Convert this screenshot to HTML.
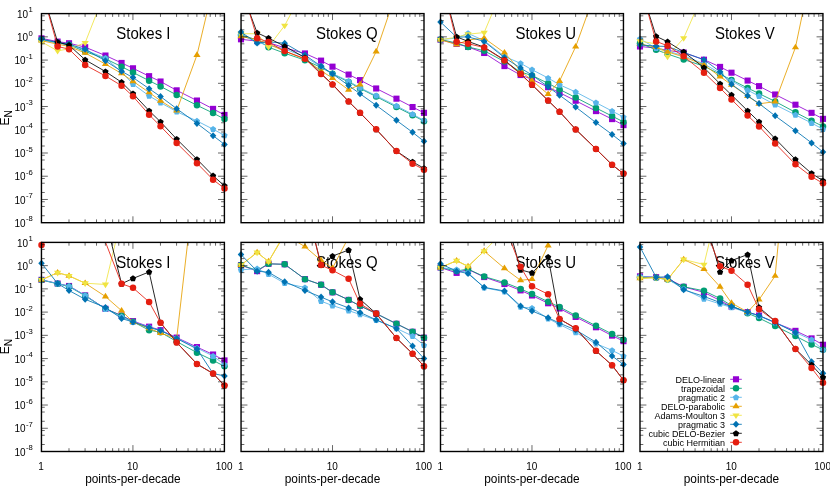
<!DOCTYPE html>
<html><head><meta charset="utf-8"><title>chart</title>
<style>
html,body{margin:0;padding:0;background:#fff;}
body{width:830px;height:486px;overflow:hidden;}
.t{font-family:"Liberation Sans",sans-serif;fill:#000;}
</style></head><body>
<svg width="830" height="486" viewBox="0 0 830 486" style="display:block;filter:blur(0.35px)">
<rect width="830" height="486" fill="#fff"/>
<defs>
<clipPath id="c0"><rect x="41.45" y="13.6" width="182.95" height="209.1"/></clipPath>
<clipPath id="c1"><rect x="241.05" y="13.6" width="182.95" height="209.1"/></clipPath>
<clipPath id="c2"><rect x="440.5" y="13.6" width="182.95" height="209.1"/></clipPath>
<clipPath id="c3"><rect x="640" y="13.6" width="182.95" height="209.1"/></clipPath>
<clipPath id="c4"><rect x="41.45" y="242.4" width="182.95" height="209.1"/></clipPath>
<clipPath id="c5"><rect x="241.05" y="242.4" width="182.95" height="209.1"/></clipPath>
<clipPath id="c6"><rect x="440.5" y="242.4" width="182.95" height="209.1"/></clipPath>
<clipPath id="c7"><rect x="640" y="242.4" width="182.95" height="209.1"/></clipPath>
</defs>
<text transform="translate(116.35,39.45) scale(1,1.09)" font-size="15" class="t">Stokes I</text>
<g clip-path="url(#c0)"><polyline fill="none" stroke="#9400D3" stroke-width="0.85" stroke-linejoin="round" points="41.5,38.36 57.61,41.61 69.04,43.23 85.16,47.18 105.46,55.53 121.57,62.95 133,68.29 149.11,76.18 160.54,81.51 176.66,90.33 196.96,100.54 213.07,108.89 224.5,114.92"/></g>
<rect x="38.45" y="35.31" width="6.1" height="6.1" fill="#9400D3"/>
<rect x="54.56" y="38.56" width="6.1" height="6.1" fill="#9400D3"/>
<rect x="65.99" y="40.18" width="6.1" height="6.1" fill="#9400D3"/>
<rect x="82.11" y="44.13" width="6.1" height="6.1" fill="#9400D3"/>
<rect x="102.41" y="52.48" width="6.1" height="6.1" fill="#9400D3"/>
<rect x="118.52" y="59.9" width="6.1" height="6.1" fill="#9400D3"/>
<rect x="129.95" y="65.24" width="6.1" height="6.1" fill="#9400D3"/>
<rect x="146.06" y="73.13" width="6.1" height="6.1" fill="#9400D3"/>
<rect x="157.49" y="78.46" width="6.1" height="6.1" fill="#9400D3"/>
<rect x="173.61" y="87.28" width="6.1" height="6.1" fill="#9400D3"/>
<rect x="193.91" y="97.49" width="6.1" height="6.1" fill="#9400D3"/>
<rect x="210.02" y="105.84" width="6.1" height="6.1" fill="#9400D3"/>
<rect x="221.45" y="111.87" width="6.1" height="6.1" fill="#9400D3"/>
<g clip-path="url(#c0)"><polyline fill="none" stroke="#009E73" stroke-width="0.85" stroke-linejoin="round" points="41.5,39.52 57.61,42.77 69.04,44.86 85.16,51.58 105.46,58.78 121.57,66.66 133,72.46 149.11,80.7 160.54,86.38 176.66,94.97 196.96,105.29 213.07,113.06 224.5,119.1"/></g>
<circle cx="41.5" cy="39.52" r="3.25" fill="#009E73"/>
<circle cx="57.61" cy="42.77" r="3.25" fill="#009E73"/>
<circle cx="69.04" cy="44.86" r="3.25" fill="#009E73"/>
<circle cx="85.16" cy="51.58" r="3.25" fill="#009E73"/>
<circle cx="105.46" cy="58.78" r="3.25" fill="#009E73"/>
<circle cx="121.57" cy="66.66" r="3.25" fill="#009E73"/>
<circle cx="133" cy="72.46" r="3.25" fill="#009E73"/>
<circle cx="149.11" cy="80.7" r="3.25" fill="#009E73"/>
<circle cx="160.54" cy="86.38" r="3.25" fill="#009E73"/>
<circle cx="176.66" cy="94.97" r="3.25" fill="#009E73"/>
<circle cx="196.96" cy="105.29" r="3.25" fill="#009E73"/>
<circle cx="213.07" cy="113.06" r="3.25" fill="#009E73"/>
<circle cx="224.5" cy="119.1" r="3.25" fill="#009E73"/>
<g clip-path="url(#c0)"><polyline fill="none" stroke="#56B4E9" stroke-width="0.85" stroke-linejoin="round" points="41.5,39.98 57.61,43 69.04,45.09 85.16,49.96 105.46,58.08 121.57,72 133,84.06 149.11,95.9 160.54,102.62 176.66,111.67 196.96,120.95 213.07,129.19 224.5,135.34"/></g>
<polygon points="41.5,36.88 44.64,39.16 43.44,42.85 39.56,42.85 38.36,39.16" fill="#56B4E9"/>
<polygon points="57.61,39.9 60.75,42.18 59.55,45.87 55.67,45.87 54.47,42.18" fill="#56B4E9"/>
<polygon points="69.04,41.99 72.18,44.27 70.98,47.96 67.1,47.96 65.91,44.27" fill="#56B4E9"/>
<polygon points="85.16,46.86 88.3,49.14 87.1,52.83 83.22,52.83 82.02,49.14" fill="#56B4E9"/>
<polygon points="105.46,54.98 108.59,57.26 107.4,60.95 103.52,60.95 102.32,57.26" fill="#56B4E9"/>
<polygon points="121.57,68.9 124.71,71.18 123.51,74.87 119.63,74.87 118.43,71.18" fill="#56B4E9"/>
<polygon points="133,80.96 136.14,83.24 134.94,86.93 131.06,86.93 129.86,83.24" fill="#56B4E9"/>
<polygon points="149.11,92.8 152.25,95.08 151.05,98.77 147.17,98.77 145.97,95.08" fill="#56B4E9"/>
<polygon points="160.54,99.52 163.68,101.8 162.48,105.49 158.6,105.49 157.41,101.8" fill="#56B4E9"/>
<polygon points="176.66,108.57 179.8,110.85 178.6,114.54 174.72,114.54 173.52,110.85" fill="#56B4E9"/>
<polygon points="196.96,117.85 200.09,120.13 198.9,123.82 195.02,123.82 193.82,120.13" fill="#56B4E9"/>
<polygon points="213.07,126.09 216.21,128.37 215.01,132.06 211.13,132.06 209.93,128.37" fill="#56B4E9"/>
<polygon points="224.5,132.24 227.64,134.52 226.44,138.21 222.56,138.21 221.36,134.52" fill="#56B4E9"/>
<g clip-path="url(#c0)"><polyline fill="none" stroke="#E69F00" stroke-width="0.85" stroke-linejoin="round" points="41.5,40.68 57.61,44.16 69.04,46.48 85.16,52.98 105.46,64.11 121.57,73.51 133,81.28 149.11,92.42 160.54,100.77 176.66,110.74 196.96,55.06 213.07,-12.91 224.5,-32.4"/></g>
<polygon points="41.5,36.95 45.1,42.55 37.9,42.55" fill="#E69F00"/>
<polygon points="57.61,40.43 61.21,46.03 54.01,46.03" fill="#E69F00"/>
<polygon points="69.04,42.75 72.64,48.35 65.44,48.35" fill="#E69F00"/>
<polygon points="85.16,49.24 88.76,54.84 81.56,54.84" fill="#E69F00"/>
<polygon points="105.46,60.38 109.06,65.98 101.86,65.98" fill="#E69F00"/>
<polygon points="121.57,69.77 125.17,75.37 117.97,75.37" fill="#E69F00"/>
<polygon points="133,77.55 136.6,83.15 129.4,83.15" fill="#E69F00"/>
<polygon points="149.11,88.68 152.71,94.28 145.51,94.28" fill="#E69F00"/>
<polygon points="160.54,97.03 164.14,102.63 156.94,102.63" fill="#E69F00"/>
<polygon points="176.66,107.01 180.26,112.61 173.06,112.61" fill="#E69F00"/>
<polygon points="196.96,51.33 200.56,56.93 193.36,56.93" fill="#E69F00"/>
<g clip-path="url(#c0)"><polyline fill="none" stroke="#F0E442" stroke-width="0.85" stroke-linejoin="round" points="41.5,41.84 57.61,50.89 69.04,48.8 85.16,42.77 105.46,-9.2 121.57,-32.4 133,-32.4 149.11,-32.4 160.54,-32.4 176.66,-32.4 196.96,-32.4 213.07,-32.4 224.5,-32.4"/></g>
<polygon points="41.5,45.57 45.1,39.97 37.9,39.97" fill="#F0E442"/>
<polygon points="57.61,54.62 61.21,49.02 54.01,49.02" fill="#F0E442"/>
<polygon points="69.04,52.53 72.64,46.93 65.44,46.93" fill="#F0E442"/>
<polygon points="85.16,46.5 88.76,40.9 81.56,40.9" fill="#F0E442"/>
<g clip-path="url(#c0)"><polyline fill="none" stroke="#0072B2" stroke-width="0.85" stroke-linejoin="round" points="41.5,39.29 57.61,42.3 69.04,44.16 85.16,49.26 105.46,60.86 121.57,71.3 133,77.57 149.11,88.7 160.54,96.59 176.66,108.66 196.96,123.39 213.07,135.68 224.5,144.38"/></g>
<polygon points="41.5,35.79 44.75,39.29 41.5,42.79 38.25,39.29" fill="#0072B2"/>
<polygon points="57.61,38.8 60.86,42.3 57.61,45.8 54.36,42.3" fill="#0072B2"/>
<polygon points="69.04,40.66 72.29,44.16 69.04,47.66 65.79,44.16" fill="#0072B2"/>
<polygon points="85.16,45.76 88.41,49.26 85.16,52.76 81.91,49.26" fill="#0072B2"/>
<polygon points="105.46,57.36 108.71,60.86 105.46,64.36 102.21,60.86" fill="#0072B2"/>
<polygon points="121.57,67.8 124.82,71.3 121.57,74.8 118.32,71.3" fill="#0072B2"/>
<polygon points="133,74.07 136.25,77.57 133,81.07 129.75,77.57" fill="#0072B2"/>
<polygon points="149.11,85.2 152.36,88.7 149.11,92.2 145.86,88.7" fill="#0072B2"/>
<polygon points="160.54,93.09 163.79,96.59 160.54,100.09 157.29,96.59" fill="#0072B2"/>
<polygon points="176.66,105.16 179.91,108.66 176.66,112.16 173.41,108.66" fill="#0072B2"/>
<polygon points="196.96,119.89 200.21,123.39 196.96,126.89 193.71,123.39" fill="#0072B2"/>
<polygon points="213.07,132.18 216.32,135.68 213.07,139.18 209.82,135.68" fill="#0072B2"/>
<polygon points="224.5,140.88 227.75,144.38 224.5,147.88 221.25,144.38" fill="#0072B2"/>
<g clip-path="url(#c0)"><polyline fill="none" stroke="#000000" stroke-width="0.85" stroke-linejoin="round" points="41.5,-11.06 57.61,42.07 69.04,45.2 85.16,59.82 105.46,71.54 121.57,82.21 133,93.58 149.11,110.74 160.54,121.88 176.66,139.05 196.96,159.23 213.07,175.7 224.5,185.91"/></g>
<polygon points="57.61,38.97 60.75,41.25 59.55,44.94 55.67,44.94 54.47,41.25" fill="#000000"/>
<polygon points="69.04,42.1 72.18,44.38 70.98,48.07 67.1,48.07 65.91,44.38" fill="#000000"/>
<polygon points="85.16,56.72 88.3,59 87.1,62.69 83.22,62.69 82.02,59" fill="#000000"/>
<polygon points="105.46,68.44 108.59,70.72 107.4,74.41 103.52,74.41 102.32,70.72" fill="#000000"/>
<polygon points="121.57,79.11 124.71,81.39 123.51,85.08 119.63,85.08 118.43,81.39" fill="#000000"/>
<polygon points="133,90.48 136.14,92.76 134.94,96.45 131.06,96.45 129.86,92.76" fill="#000000"/>
<polygon points="149.11,107.64 152.25,109.92 151.05,113.61 147.17,113.61 145.97,109.92" fill="#000000"/>
<polygon points="160.54,118.78 163.68,121.06 162.48,124.75 158.6,124.75 157.41,121.06" fill="#000000"/>
<polygon points="176.66,135.95 179.8,138.23 178.6,141.92 174.72,141.92 173.52,138.23" fill="#000000"/>
<polygon points="196.96,156.13 200.09,158.41 198.9,162.1 195.02,162.1 193.82,158.41" fill="#000000"/>
<polygon points="213.07,172.6 216.21,174.88 215.01,178.57 211.13,178.57 209.93,174.88" fill="#000000"/>
<polygon points="224.5,182.81 227.64,185.09 226.44,188.78 222.56,188.78 221.36,185.09" fill="#000000"/>
<g clip-path="url(#c0)"><polyline fill="none" stroke="#E51E10" stroke-width="0.85" stroke-linejoin="round" points="41.5,-11.29 57.61,46.48 69.04,49.15 85.16,65.04 105.46,75.94 121.57,85.69 133,96.36 149.11,114.69 160.54,126.29 176.66,142.99 196.96,163.18 213.07,179.65 224.5,188.46"/></g>
<circle cx="57.61" cy="46.48" r="3.25" fill="#E51E10"/>
<circle cx="69.04" cy="49.15" r="3.25" fill="#E51E10"/>
<circle cx="85.16" cy="65.04" r="3.25" fill="#E51E10"/>
<circle cx="105.46" cy="75.94" r="3.25" fill="#E51E10"/>
<circle cx="121.57" cy="85.69" r="3.25" fill="#E51E10"/>
<circle cx="133" cy="96.36" r="3.25" fill="#E51E10"/>
<circle cx="149.11" cy="114.69" r="3.25" fill="#E51E10"/>
<circle cx="160.54" cy="126.29" r="3.25" fill="#E51E10"/>
<circle cx="176.66" cy="142.99" r="3.25" fill="#E51E10"/>
<circle cx="196.96" cy="163.18" r="3.25" fill="#E51E10"/>
<circle cx="213.07" cy="179.65" r="3.25" fill="#E51E10"/>
<circle cx="224.5" cy="188.46" r="3.25" fill="#E51E10"/>
<path d="M41.45,15.85h3.3M224.4,15.85h-3.3M41.45,20.59h3.3M224.4,20.59h-3.3M41.45,29.84h3.3M224.4,29.84h-3.3M41.45,36.83h6.4M224.4,36.83h-6.4M41.45,39.08h3.3M224.4,39.08h-3.3M41.45,43.83h3.3M224.4,43.83h-3.3M41.45,53.07h3.3M224.4,53.07h-3.3M41.45,60.07h6.4M224.4,60.07h-6.4M41.45,62.32h3.3M224.4,62.32h-3.3M41.45,67.06h3.3M224.4,67.06h-3.3M41.45,76.31h3.3M224.4,76.31h-3.3M41.45,83.3h6.4M224.4,83.3h-6.4M41.45,85.55h3.3M224.4,85.55h-3.3M41.45,90.29h3.3M224.4,90.29h-3.3M41.45,99.54h3.3M224.4,99.54h-3.3M41.45,106.53h6.4M224.4,106.53h-6.4M41.45,108.78h3.3M224.4,108.78h-3.3M41.45,113.53h3.3M224.4,113.53h-3.3M41.45,122.77h3.3M224.4,122.77h-3.3M41.45,129.77h6.4M224.4,129.77h-6.4M41.45,132.02h3.3M224.4,132.02h-3.3M41.45,136.76h3.3M224.4,136.76h-3.3M41.45,146.01h3.3M224.4,146.01h-3.3M41.45,153h6.4M224.4,153h-6.4M41.45,155.25h3.3M224.4,155.25h-3.3M41.45,159.99h3.3M224.4,159.99h-3.3M41.45,169.24h3.3M224.4,169.24h-3.3M41.45,176.23h6.4M224.4,176.23h-6.4M41.45,178.48h3.3M224.4,178.48h-3.3M41.45,183.23h3.3M224.4,183.23h-3.3M41.45,192.47h3.3M224.4,192.47h-3.3M41.45,199.47h6.4M224.4,199.47h-6.4M41.45,201.72h3.3M224.4,201.72h-3.3M41.45,206.46h3.3M224.4,206.46h-3.3M41.45,215.71h3.3M224.4,215.71h-3.3M68.99,222.7v-3.3M68.99,13.6v3.3M85.09,222.7v-3.3M85.09,13.6v3.3M96.52,222.7v-3.3M96.52,13.6v3.3M105.39,222.7v-3.3M105.39,13.6v3.3M112.63,222.7v-3.3M112.63,13.6v3.3M118.76,222.7v-3.3M118.76,13.6v3.3M124.06,222.7v-3.3M124.06,13.6v3.3M128.74,222.7v-3.3M128.74,13.6v3.3M132.93,222.7v-6.4M132.93,13.6v6.4M160.46,222.7v-3.3M160.46,13.6v3.3M176.57,222.7v-3.3M176.57,13.6v3.3M188,222.7v-3.3M188,13.6v3.3M196.86,222.7v-3.3M196.86,13.6v3.3M204.11,222.7v-3.3M204.11,13.6v3.3M210.23,222.7v-3.3M210.23,13.6v3.3M215.54,222.7v-3.3M215.54,13.6v3.3M220.21,222.7v-3.3M220.21,13.6v3.3" stroke="#000" stroke-width="0.6" fill="none"/>
<rect x="41.45" y="13.6" width="182.95" height="209.1" fill="none" stroke="#000" stroke-width="1.4"/>
<text transform="translate(32.8,17.7) scale(1,1.02)" font-size="10" text-anchor="end" class="t">10<tspan font-size="7.7" dy="-5.3" dx="0.4">1</tspan></text>
<text transform="translate(32.8,40.93) scale(1,1.02)" font-size="10" text-anchor="end" class="t">10<tspan font-size="7.7" dy="-5.3" dx="0.4">0</tspan></text>
<text transform="translate(32.8,64.17) scale(1,1.02)" font-size="10" text-anchor="end" class="t">10<tspan font-size="7.7" dy="-5.3" dx="0.4">-1</tspan></text>
<text transform="translate(32.8,87.4) scale(1,1.02)" font-size="10" text-anchor="end" class="t">10<tspan font-size="7.7" dy="-5.3" dx="0.4">-2</tspan></text>
<text transform="translate(32.8,110.63) scale(1,1.02)" font-size="10" text-anchor="end" class="t">10<tspan font-size="7.7" dy="-5.3" dx="0.4">-3</tspan></text>
<text transform="translate(32.8,133.87) scale(1,1.02)" font-size="10" text-anchor="end" class="t">10<tspan font-size="7.7" dy="-5.3" dx="0.4">-4</tspan></text>
<text transform="translate(32.8,157.1) scale(1,1.02)" font-size="10" text-anchor="end" class="t">10<tspan font-size="7.7" dy="-5.3" dx="0.4">-5</tspan></text>
<text transform="translate(32.8,180.33) scale(1,1.02)" font-size="10" text-anchor="end" class="t">10<tspan font-size="7.7" dy="-5.3" dx="0.4">-6</tspan></text>
<text transform="translate(32.8,203.57) scale(1,1.02)" font-size="10" text-anchor="end" class="t">10<tspan font-size="7.7" dy="-5.3" dx="0.4">-7</tspan></text>
<text transform="translate(32.8,226.8) scale(1,1.02)" font-size="10" text-anchor="end" class="t">10<tspan font-size="7.7" dy="-5.3" dx="0.4">-8</tspan></text>
<text transform="translate(9.3,125.45) rotate(-90)" font-size="12" class="t">E<tspan font-size="10.2" dy="3.1">N</tspan></text>
<text transform="translate(315.95,39.45) scale(1,1.09)" font-size="15" class="t">Stokes Q</text>
<g clip-path="url(#c1)"><polyline fill="none" stroke="#9400D3" stroke-width="0.85" stroke-linejoin="round" points="241,39.29 257.11,41.14 268.54,42.54 284.66,47.87 304.96,53.44 321.07,60.63 332.5,66.66 348.61,74.55 360.04,80.12 376.16,88.47 396.46,98.68 412.57,107.03 424,112.83"/></g>
<rect x="237.95" y="36.24" width="6.1" height="6.1" fill="#9400D3"/>
<rect x="254.06" y="38.09" width="6.1" height="6.1" fill="#9400D3"/>
<rect x="265.49" y="39.49" width="6.1" height="6.1" fill="#9400D3"/>
<rect x="281.61" y="44.82" width="6.1" height="6.1" fill="#9400D3"/>
<rect x="301.91" y="50.39" width="6.1" height="6.1" fill="#9400D3"/>
<rect x="318.02" y="57.58" width="6.1" height="6.1" fill="#9400D3"/>
<rect x="329.45" y="63.61" width="6.1" height="6.1" fill="#9400D3"/>
<rect x="345.56" y="71.5" width="6.1" height="6.1" fill="#9400D3"/>
<rect x="356.99" y="77.07" width="6.1" height="6.1" fill="#9400D3"/>
<rect x="373.11" y="85.42" width="6.1" height="6.1" fill="#9400D3"/>
<rect x="393.41" y="95.63" width="6.1" height="6.1" fill="#9400D3"/>
<rect x="409.52" y="103.98" width="6.1" height="6.1" fill="#9400D3"/>
<rect x="420.95" y="109.78" width="6.1" height="6.1" fill="#9400D3"/>
<g clip-path="url(#c1)"><polyline fill="none" stroke="#009E73" stroke-width="0.85" stroke-linejoin="round" points="241,34.88 257.11,39.98 268.54,47.18 284.66,53.21 304.96,60.17 321.07,67.36 332.5,73.86 348.61,81.98 360.04,88.47 376.16,96.59 396.46,107.03 412.57,115.15 424,121.18"/></g>
<circle cx="241" cy="34.88" r="3.25" fill="#009E73"/>
<circle cx="257.11" cy="39.98" r="3.25" fill="#009E73"/>
<circle cx="268.54" cy="47.18" r="3.25" fill="#009E73"/>
<circle cx="284.66" cy="53.21" r="3.25" fill="#009E73"/>
<circle cx="304.96" cy="60.17" r="3.25" fill="#009E73"/>
<circle cx="321.07" cy="67.36" r="3.25" fill="#009E73"/>
<circle cx="332.5" cy="73.86" r="3.25" fill="#009E73"/>
<circle cx="348.61" cy="81.98" r="3.25" fill="#009E73"/>
<circle cx="360.04" cy="88.47" r="3.25" fill="#009E73"/>
<circle cx="376.16" cy="96.59" r="3.25" fill="#009E73"/>
<circle cx="396.46" cy="107.03" r="3.25" fill="#009E73"/>
<circle cx="412.57" cy="115.15" r="3.25" fill="#009E73"/>
<circle cx="424" cy="121.18" r="3.25" fill="#009E73"/>
<g clip-path="url(#c1)"><polyline fill="none" stroke="#56B4E9" stroke-width="0.85" stroke-linejoin="round" points="241,34.88 257.11,42.3 268.54,45.32 284.66,48.8 304.96,56.92 321.07,66.66 332.5,73.62 348.61,81.05 360.04,87.78 376.16,95.66 396.46,105.87 412.57,114.22 424,120.37"/></g>
<polygon points="241,31.78 244.14,34.06 242.94,37.75 239.06,37.75 237.86,34.06" fill="#56B4E9"/>
<polygon points="257.11,39.2 260.25,41.48 259.05,45.17 255.17,45.17 253.97,41.48" fill="#56B4E9"/>
<polygon points="268.54,42.22 271.68,44.5 270.48,48.19 266.6,48.19 265.41,44.5" fill="#56B4E9"/>
<polygon points="284.66,45.7 287.8,47.98 286.6,51.67 282.72,51.67 281.52,47.98" fill="#56B4E9"/>
<polygon points="304.96,53.82 308.09,56.1 306.9,59.79 303.02,59.79 301.82,56.1" fill="#56B4E9"/>
<polygon points="321.07,63.56 324.21,65.84 323.01,69.53 319.13,69.53 317.93,65.84" fill="#56B4E9"/>
<polygon points="332.5,70.52 335.64,72.8 334.44,76.49 330.56,76.49 329.36,72.8" fill="#56B4E9"/>
<polygon points="348.61,77.95 351.75,80.23 350.55,83.92 346.67,83.92 345.47,80.23" fill="#56B4E9"/>
<polygon points="360.04,84.68 363.18,86.96 361.98,90.65 358.1,90.65 356.91,86.96" fill="#56B4E9"/>
<polygon points="376.16,92.56 379.3,94.84 378.1,98.53 374.22,98.53 373.02,94.84" fill="#56B4E9"/>
<polygon points="396.46,102.77 399.59,105.05 398.4,108.74 394.52,108.74 393.32,105.05" fill="#56B4E9"/>
<polygon points="412.57,111.12 415.71,113.4 414.51,117.09 410.63,117.09 409.43,113.4" fill="#56B4E9"/>
<polygon points="424,117.27 427.14,119.55 425.94,123.24 422.06,123.24 420.86,119.55" fill="#56B4E9"/>
<g clip-path="url(#c1)"><polyline fill="none" stroke="#E69F00" stroke-width="0.85" stroke-linejoin="round" points="241,36.5 257.11,39.52 268.54,44.16 284.66,51.12 304.96,59.24 321.07,70.84 332.5,78.03 348.61,89.86 360.04,84.53 376.16,51.58 396.46,-8.04 412.57,-32.4 424,-32.4"/></g>
<polygon points="241,32.77 244.6,38.37 237.4,38.37" fill="#E69F00"/>
<polygon points="257.11,35.79 260.71,41.39 253.51,41.39" fill="#E69F00"/>
<polygon points="268.54,40.43 272.14,46.03 264.94,46.03" fill="#E69F00"/>
<polygon points="284.66,47.39 288.26,52.99 281.06,52.99" fill="#E69F00"/>
<polygon points="304.96,55.51 308.56,61.11 301.36,61.11" fill="#E69F00"/>
<polygon points="321.07,67.11 324.67,72.71 317.47,72.71" fill="#E69F00"/>
<polygon points="332.5,74.3 336.1,79.9 328.9,79.9" fill="#E69F00"/>
<polygon points="348.61,86.13 352.21,91.73 345.01,91.73" fill="#E69F00"/>
<polygon points="360.04,80.79 363.64,86.39 356.44,86.39" fill="#E69F00"/>
<polygon points="376.16,47.85 379.76,53.45 372.56,53.45" fill="#E69F00"/>
<g clip-path="url(#c1)"><polyline fill="none" stroke="#F0E442" stroke-width="0.85" stroke-linejoin="round" points="241,33.72 257.11,33.72 268.54,46.71 284.66,25.6 304.96,-13.14 321.07,-32.4 332.5,-32.4 348.61,-32.4 360.04,-32.4 376.16,-32.4 396.46,-32.4 412.57,-32.4 424,-32.4"/></g>
<polygon points="241,37.45 244.6,31.85 237.4,31.85" fill="#F0E442"/>
<polygon points="257.11,37.45 260.71,31.85 253.51,31.85" fill="#F0E442"/>
<polygon points="268.54,50.45 272.14,44.85 264.94,44.85" fill="#F0E442"/>
<polygon points="284.66,29.33 288.26,23.73 281.06,23.73" fill="#F0E442"/>
<g clip-path="url(#c1)"><polyline fill="none" stroke="#0072B2" stroke-width="0.85" stroke-linejoin="round" points="241,32.1 257.11,43 268.54,41.84 284.66,43.23 304.96,55.06 321.07,66.2 332.5,73.86 348.61,85.46 360.04,93.81 376.16,105.29 396.46,120.37 412.57,132.32 424,141.37"/></g>
<polygon points="241,28.6 244.25,32.1 241,35.6 237.75,32.1" fill="#0072B2"/>
<polygon points="257.11,39.5 260.36,43 257.11,46.5 253.86,43" fill="#0072B2"/>
<polygon points="268.54,38.34 271.79,41.84 268.54,45.34 265.29,41.84" fill="#0072B2"/>
<polygon points="284.66,39.73 287.91,43.23 284.66,46.73 281.41,43.23" fill="#0072B2"/>
<polygon points="304.96,51.56 308.21,55.06 304.96,58.56 301.71,55.06" fill="#0072B2"/>
<polygon points="321.07,62.7 324.32,66.2 321.07,69.7 317.82,66.2" fill="#0072B2"/>
<polygon points="332.5,70.36 335.75,73.86 332.5,77.36 329.25,73.86" fill="#0072B2"/>
<polygon points="348.61,81.96 351.86,85.46 348.61,88.96 345.36,85.46" fill="#0072B2"/>
<polygon points="360.04,90.31 363.29,93.81 360.04,97.31 356.79,93.81" fill="#0072B2"/>
<polygon points="376.16,101.79 379.41,105.29 376.16,108.79 372.91,105.29" fill="#0072B2"/>
<polygon points="396.46,116.87 399.71,120.37 396.46,123.87 393.21,120.37" fill="#0072B2"/>
<polygon points="412.57,128.82 415.82,132.32 412.57,135.82 409.32,132.32" fill="#0072B2"/>
<polygon points="424,137.87 427.25,141.37 424,144.87 420.75,141.37" fill="#0072B2"/>
<g clip-path="url(#c1)"><polyline fill="none" stroke="#000000" stroke-width="0.85" stroke-linejoin="round" points="241,-10.82 257.11,32.79 268.54,38.13 284.66,46.25 304.96,57.62 321.07,73.62 332.5,84.3 348.61,101.46 360.04,112.83 376.16,129.3 396.46,151.11 412.57,161.9 424,168.28"/></g>
<polygon points="257.11,29.69 260.25,31.97 259.05,35.66 255.17,35.66 253.97,31.97" fill="#000000"/>
<polygon points="268.54,35.03 271.68,37.31 270.48,41 266.6,41 265.41,37.31" fill="#000000"/>
<polygon points="284.66,43.15 287.8,45.43 286.6,49.12 282.72,49.12 281.52,45.43" fill="#000000"/>
<polygon points="304.96,54.52 308.09,56.8 306.9,60.49 303.02,60.49 301.82,56.8" fill="#000000"/>
<polygon points="321.07,70.52 324.21,72.8 323.01,76.49 319.13,76.49 317.93,72.8" fill="#000000"/>
<polygon points="332.5,81.2 335.64,83.48 334.44,87.17 330.56,87.17 329.36,83.48" fill="#000000"/>
<polygon points="348.61,98.36 351.75,100.64 350.55,104.33 346.67,104.33 345.47,100.64" fill="#000000"/>
<polygon points="360.04,109.73 363.18,112.01 361.98,115.7 358.1,115.7 356.91,112.01" fill="#000000"/>
<polygon points="376.16,126.2 379.3,128.48 378.1,132.17 374.22,132.17 373.02,128.48" fill="#000000"/>
<polygon points="396.46,148.01 399.59,150.29 398.4,153.98 394.52,153.98 393.32,150.29" fill="#000000"/>
<polygon points="412.57,158.8 415.71,161.08 414.51,164.77 410.63,164.77 409.43,161.08" fill="#000000"/>
<polygon points="424,165.18 427.14,167.46 425.94,171.15 422.06,171.15 420.86,167.46" fill="#000000"/>
<g clip-path="url(#c1)"><polyline fill="none" stroke="#E51E10" stroke-width="0.85" stroke-linejoin="round" points="241,-15.7 257.11,38.13 268.54,42.07 284.66,51.12 304.96,58.66 321.07,74.09 332.5,84.53 348.61,101.46 360.04,112.83 376.16,129.3 396.46,151.11 412.57,163.64 424,169.67"/></g>
<circle cx="257.11" cy="38.13" r="3.25" fill="#E51E10"/>
<circle cx="268.54" cy="42.07" r="3.25" fill="#E51E10"/>
<circle cx="284.66" cy="51.12" r="3.25" fill="#E51E10"/>
<circle cx="304.96" cy="58.66" r="3.25" fill="#E51E10"/>
<circle cx="321.07" cy="74.09" r="3.25" fill="#E51E10"/>
<circle cx="332.5" cy="84.53" r="3.25" fill="#E51E10"/>
<circle cx="348.61" cy="101.46" r="3.25" fill="#E51E10"/>
<circle cx="360.04" cy="112.83" r="3.25" fill="#E51E10"/>
<circle cx="376.16" cy="129.3" r="3.25" fill="#E51E10"/>
<circle cx="396.46" cy="151.11" r="3.25" fill="#E51E10"/>
<circle cx="412.57" cy="163.64" r="3.25" fill="#E51E10"/>
<circle cx="424" cy="169.67" r="3.25" fill="#E51E10"/>
<path d="M241.05,15.85h3.3M424,15.85h-3.3M241.05,20.59h3.3M424,20.59h-3.3M241.05,29.84h3.3M424,29.84h-3.3M241.05,36.83h6.4M424,36.83h-6.4M241.05,39.08h3.3M424,39.08h-3.3M241.05,43.83h3.3M424,43.83h-3.3M241.05,53.07h3.3M424,53.07h-3.3M241.05,60.07h6.4M424,60.07h-6.4M241.05,62.32h3.3M424,62.32h-3.3M241.05,67.06h3.3M424,67.06h-3.3M241.05,76.31h3.3M424,76.31h-3.3M241.05,83.3h6.4M424,83.3h-6.4M241.05,85.55h3.3M424,85.55h-3.3M241.05,90.29h3.3M424,90.29h-3.3M241.05,99.54h3.3M424,99.54h-3.3M241.05,106.53h6.4M424,106.53h-6.4M241.05,108.78h3.3M424,108.78h-3.3M241.05,113.53h3.3M424,113.53h-3.3M241.05,122.77h3.3M424,122.77h-3.3M241.05,129.77h6.4M424,129.77h-6.4M241.05,132.02h3.3M424,132.02h-3.3M241.05,136.76h3.3M424,136.76h-3.3M241.05,146.01h3.3M424,146.01h-3.3M241.05,153h6.4M424,153h-6.4M241.05,155.25h3.3M424,155.25h-3.3M241.05,159.99h3.3M424,159.99h-3.3M241.05,169.24h3.3M424,169.24h-3.3M241.05,176.23h6.4M424,176.23h-6.4M241.05,178.48h3.3M424,178.48h-3.3M241.05,183.23h3.3M424,183.23h-3.3M241.05,192.47h3.3M424,192.47h-3.3M241.05,199.47h6.4M424,199.47h-6.4M241.05,201.72h3.3M424,201.72h-3.3M241.05,206.46h3.3M424,206.46h-3.3M241.05,215.71h3.3M424,215.71h-3.3M268.59,222.7v-3.3M268.59,13.6v3.3M284.69,222.7v-3.3M284.69,13.6v3.3M296.12,222.7v-3.3M296.12,13.6v3.3M304.99,222.7v-3.3M304.99,13.6v3.3M312.23,222.7v-3.3M312.23,13.6v3.3M318.36,222.7v-3.3M318.36,13.6v3.3M323.66,222.7v-3.3M323.66,13.6v3.3M328.34,222.7v-3.3M328.34,13.6v3.3M332.52,222.7v-6.4M332.52,13.6v6.4M360.06,222.7v-3.3M360.06,13.6v3.3M376.17,222.7v-3.3M376.17,13.6v3.3M387.6,222.7v-3.3M387.6,13.6v3.3M396.46,222.7v-3.3M396.46,13.6v3.3M403.71,222.7v-3.3M403.71,13.6v3.3M409.83,222.7v-3.3M409.83,13.6v3.3M415.14,222.7v-3.3M415.14,13.6v3.3M419.81,222.7v-3.3M419.81,13.6v3.3" stroke="#000" stroke-width="0.6" fill="none"/>
<rect x="241.05" y="13.6" width="182.95" height="209.1" fill="none" stroke="#000" stroke-width="1.4"/>
<text transform="translate(515.4,39.45) scale(1,1.09)" font-size="15" class="t">Stokes U</text>
<g clip-path="url(#c2)"><polyline fill="none" stroke="#9400D3" stroke-width="0.85" stroke-linejoin="round" points="440.5,39.75 456.61,43.93 468.04,46.94 484.16,52.98 504.46,66.08 520.57,75.02 532,79.31 548.11,87.2 559.54,92.65 575.66,100.77 595.96,111.09 612.07,119.1 623.5,125.13"/></g>
<rect x="437.45" y="36.7" width="6.1" height="6.1" fill="#9400D3"/>
<rect x="453.56" y="40.88" width="6.1" height="6.1" fill="#9400D3"/>
<rect x="464.99" y="43.89" width="6.1" height="6.1" fill="#9400D3"/>
<rect x="481.11" y="49.93" width="6.1" height="6.1" fill="#9400D3"/>
<rect x="501.41" y="63.03" width="6.1" height="6.1" fill="#9400D3"/>
<rect x="517.52" y="71.97" width="6.1" height="6.1" fill="#9400D3"/>
<rect x="528.95" y="76.26" width="6.1" height="6.1" fill="#9400D3"/>
<rect x="545.06" y="84.15" width="6.1" height="6.1" fill="#9400D3"/>
<rect x="556.49" y="89.6" width="6.1" height="6.1" fill="#9400D3"/>
<rect x="572.61" y="97.72" width="6.1" height="6.1" fill="#9400D3"/>
<rect x="592.91" y="108.04" width="6.1" height="6.1" fill="#9400D3"/>
<rect x="609.02" y="116.05" width="6.1" height="6.1" fill="#9400D3"/>
<rect x="620.45" y="122.08" width="6.1" height="6.1" fill="#9400D3"/>
<g clip-path="url(#c2)"><polyline fill="none" stroke="#009E73" stroke-width="0.85" stroke-linejoin="round" points="440.5,39.52 456.61,43 468.04,46.94 484.16,50.77 504.46,61.56 520.57,72 532,75.48 548.11,83.37 559.54,89.4 575.66,97.52 595.96,107.96 612.07,116.08 623.5,121.88"/></g>
<circle cx="440.5" cy="39.52" r="3.25" fill="#009E73"/>
<circle cx="456.61" cy="43" r="3.25" fill="#009E73"/>
<circle cx="468.04" cy="46.94" r="3.25" fill="#009E73"/>
<circle cx="484.16" cy="50.77" r="3.25" fill="#009E73"/>
<circle cx="504.46" cy="61.56" r="3.25" fill="#009E73"/>
<circle cx="520.57" cy="72" r="3.25" fill="#009E73"/>
<circle cx="532" cy="75.48" r="3.25" fill="#009E73"/>
<circle cx="548.11" cy="83.37" r="3.25" fill="#009E73"/>
<circle cx="559.54" cy="89.4" r="3.25" fill="#009E73"/>
<circle cx="575.66" cy="97.52" r="3.25" fill="#009E73"/>
<circle cx="595.96" cy="107.96" r="3.25" fill="#009E73"/>
<circle cx="612.07" cy="116.08" r="3.25" fill="#009E73"/>
<circle cx="623.5" cy="121.88" r="3.25" fill="#009E73"/>
<g clip-path="url(#c2)"><polyline fill="none" stroke="#56B4E9" stroke-width="0.85" stroke-linejoin="round" points="440.5,39.52 456.61,38.13 468.04,33.37 484.16,40.68 504.46,56.46 520.57,63.3 532,69.68 548.11,78.03 559.54,84.76 575.66,91.95 595.96,102.62 612.07,111.09 623.5,117.01"/></g>
<polygon points="440.5,36.42 443.64,38.7 442.44,42.39 438.56,42.39 437.36,38.7" fill="#56B4E9"/>
<polygon points="456.61,35.03 459.75,37.31 458.55,41 454.67,41 453.47,37.31" fill="#56B4E9"/>
<polygon points="468.04,30.27 471.18,32.55 469.98,36.24 466.1,36.24 464.91,32.55" fill="#56B4E9"/>
<polygon points="484.16,37.58 487.3,39.86 486.1,43.55 482.22,43.55 481.02,39.86" fill="#56B4E9"/>
<polygon points="504.46,53.36 507.59,55.64 506.4,59.33 502.52,59.33 501.32,55.64" fill="#56B4E9"/>
<polygon points="520.57,60.2 523.71,62.48 522.51,66.17 518.63,66.17 517.43,62.48" fill="#56B4E9"/>
<polygon points="532,66.58 535.14,68.86 533.94,72.55 530.06,72.55 528.86,68.86" fill="#56B4E9"/>
<polygon points="548.11,74.93 551.25,77.21 550.05,80.9 546.17,80.9 544.97,77.21" fill="#56B4E9"/>
<polygon points="559.54,81.66 562.68,83.94 561.48,87.63 557.6,87.63 556.41,83.94" fill="#56B4E9"/>
<polygon points="575.66,88.85 578.8,91.13 577.6,94.82 573.72,94.82 572.52,91.13" fill="#56B4E9"/>
<polygon points="595.96,99.52 599.09,101.8 597.9,105.49 594.02,105.49 592.82,101.8" fill="#56B4E9"/>
<polygon points="612.07,107.99 615.21,110.27 614.01,113.96 610.13,113.96 608.93,110.27" fill="#56B4E9"/>
<polygon points="623.5,113.91 626.64,116.19 625.44,119.88 621.56,119.88 620.36,116.19" fill="#56B4E9"/>
<g clip-path="url(#c2)"><polyline fill="none" stroke="#E69F00" stroke-width="0.85" stroke-linejoin="round" points="440.5,39.75 456.61,44.62 468.04,39.98 484.16,38.13 504.46,52.74 520.57,70.84 532,80.58 548.11,94.16 559.54,81.05 575.66,46.71 595.96,-9.66 612.07,-32.4 623.5,-32.4"/></g>
<polygon points="440.5,36.02 444.1,41.62 436.9,41.62" fill="#E69F00"/>
<polygon points="456.61,40.89 460.21,46.49 453.01,46.49" fill="#E69F00"/>
<polygon points="468.04,36.25 471.64,41.85 464.44,41.85" fill="#E69F00"/>
<polygon points="484.16,34.39 487.76,39.99 480.56,39.99" fill="#E69F00"/>
<polygon points="504.46,49.01 508.06,54.61 500.86,54.61" fill="#E69F00"/>
<polygon points="520.57,67.11 524.17,72.71 516.97,72.71" fill="#E69F00"/>
<polygon points="532,76.85 535.6,82.45 528.4,82.45" fill="#E69F00"/>
<polygon points="548.11,90.42 551.71,96.02 544.51,96.02" fill="#E69F00"/>
<polygon points="559.54,77.31 563.14,82.91 555.94,82.91" fill="#E69F00"/>
<polygon points="575.66,42.98 579.26,48.58 572.06,48.58" fill="#E69F00"/>
<g clip-path="url(#c2)"><polyline fill="none" stroke="#F0E442" stroke-width="0.85" stroke-linejoin="round" points="440.5,39.75 456.61,37.2 468.04,34.18 484.16,32.56 504.46,-15.93 520.57,-32.4 532,-32.4 548.11,-32.4 559.54,-32.4 575.66,-32.4 595.96,-32.4 612.07,-32.4 623.5,-32.4"/></g>
<polygon points="440.5,43.49 444.1,37.89 436.9,37.89" fill="#F0E442"/>
<polygon points="456.61,40.93 460.21,35.33 453.01,35.33" fill="#F0E442"/>
<polygon points="468.04,37.92 471.64,32.32 464.44,32.32" fill="#F0E442"/>
<polygon points="484.16,36.29 487.76,30.69 480.56,30.69" fill="#F0E442"/>
<g clip-path="url(#c2)"><polyline fill="none" stroke="#0072B2" stroke-width="0.85" stroke-linejoin="round" points="440.5,22 456.61,37.2 468.04,36.85 484.16,41.38 504.46,57.62 520.57,68.06 532,75.02 548.11,86.85 559.54,95.2 575.66,107.03 595.96,122.58 612.07,134.41 623.5,143.46"/></g>
<polygon points="440.5,18.5 443.75,22 440.5,25.5 437.25,22" fill="#0072B2"/>
<polygon points="456.61,33.7 459.86,37.2 456.61,40.7 453.36,37.2" fill="#0072B2"/>
<polygon points="468.04,33.35 471.29,36.85 468.04,40.35 464.79,36.85" fill="#0072B2"/>
<polygon points="484.16,37.88 487.41,41.38 484.16,44.88 480.91,41.38" fill="#0072B2"/>
<polygon points="504.46,54.12 507.71,57.62 504.46,61.12 501.21,57.62" fill="#0072B2"/>
<polygon points="520.57,64.56 523.82,68.06 520.57,71.56 517.32,68.06" fill="#0072B2"/>
<polygon points="532,71.52 535.25,75.02 532,78.52 528.75,75.02" fill="#0072B2"/>
<polygon points="548.11,83.35 551.36,86.85 548.11,90.35 544.86,86.85" fill="#0072B2"/>
<polygon points="559.54,91.7 562.79,95.2 559.54,98.7 556.29,95.2" fill="#0072B2"/>
<polygon points="575.66,103.53 578.91,107.03 575.66,110.53 572.41,107.03" fill="#0072B2"/>
<polygon points="595.96,119.08 599.21,122.58 595.96,126.08 592.71,122.58" fill="#0072B2"/>
<polygon points="612.07,130.91 615.32,134.41 612.07,137.91 608.82,134.41" fill="#0072B2"/>
<polygon points="623.5,139.96 626.75,143.46 623.5,146.96 620.25,143.46" fill="#0072B2"/>
<g clip-path="url(#c2)"><polyline fill="none" stroke="#000000" stroke-width="0.85" stroke-linejoin="round" points="440.5,-23.12 456.61,36.85 468.04,41.38 484.16,47.18 504.46,59.94 520.57,73.86 532,84.76 548.11,100.54 559.54,111.67 575.66,129.3 595.96,148.91 612.07,164.8 623.5,173.62"/></g>
<polygon points="456.61,33.75 459.75,36.03 458.55,39.72 454.67,39.72 453.47,36.03" fill="#000000"/>
<polygon points="468.04,38.28 471.18,40.56 469.98,44.25 466.1,44.25 464.91,40.56" fill="#000000"/>
<polygon points="484.16,44.08 487.3,46.36 486.1,50.05 482.22,50.05 481.02,46.36" fill="#000000"/>
<polygon points="504.46,56.84 507.59,59.12 506.4,62.81 502.52,62.81 501.32,59.12" fill="#000000"/>
<polygon points="520.57,70.76 523.71,73.04 522.51,76.73 518.63,76.73 517.43,73.04" fill="#000000"/>
<polygon points="532,81.66 535.14,83.94 533.94,87.63 530.06,87.63 528.86,83.94" fill="#000000"/>
<polygon points="548.11,97.44 551.25,99.72 550.05,103.41 546.17,103.41 544.97,99.72" fill="#000000"/>
<polygon points="559.54,108.57 562.68,110.85 561.48,114.54 557.6,114.54 556.41,110.85" fill="#000000"/>
<polygon points="575.66,126.2 578.8,128.48 577.6,132.17 573.72,132.17 572.52,128.48" fill="#000000"/>
<polygon points="595.96,145.81 599.09,148.09 597.9,151.78 594.02,151.78 592.82,148.09" fill="#000000"/>
<polygon points="612.07,161.7 615.21,163.98 614.01,167.67 610.13,167.67 608.93,163.98" fill="#000000"/>
<polygon points="623.5,170.52 626.64,172.8 625.44,176.49 621.56,176.49 620.36,172.8" fill="#000000"/>
<g clip-path="url(#c2)"><polyline fill="none" stroke="#E51E10" stroke-width="0.85" stroke-linejoin="round" points="440.5,-24.51 456.61,41.72 468.04,43.7 484.16,47.52 504.46,60.4 520.57,74.09 532,84.76 548.11,100.54 559.54,111.67 575.66,129.42 595.96,148.91 612.07,164.8 623.5,173.62"/></g>
<circle cx="456.61" cy="41.72" r="3.25" fill="#E51E10"/>
<circle cx="468.04" cy="43.7" r="3.25" fill="#E51E10"/>
<circle cx="484.16" cy="47.52" r="3.25" fill="#E51E10"/>
<circle cx="504.46" cy="60.4" r="3.25" fill="#E51E10"/>
<circle cx="520.57" cy="74.09" r="3.25" fill="#E51E10"/>
<circle cx="532" cy="84.76" r="3.25" fill="#E51E10"/>
<circle cx="548.11" cy="100.54" r="3.25" fill="#E51E10"/>
<circle cx="559.54" cy="111.67" r="3.25" fill="#E51E10"/>
<circle cx="575.66" cy="129.42" r="3.25" fill="#E51E10"/>
<circle cx="595.96" cy="148.91" r="3.25" fill="#E51E10"/>
<circle cx="612.07" cy="164.8" r="3.25" fill="#E51E10"/>
<circle cx="623.5" cy="173.62" r="3.25" fill="#E51E10"/>
<path d="M440.5,15.85h3.3M623.45,15.85h-3.3M440.5,20.59h3.3M623.45,20.59h-3.3M440.5,29.84h3.3M623.45,29.84h-3.3M440.5,36.83h6.4M623.45,36.83h-6.4M440.5,39.08h3.3M623.45,39.08h-3.3M440.5,43.83h3.3M623.45,43.83h-3.3M440.5,53.07h3.3M623.45,53.07h-3.3M440.5,60.07h6.4M623.45,60.07h-6.4M440.5,62.32h3.3M623.45,62.32h-3.3M440.5,67.06h3.3M623.45,67.06h-3.3M440.5,76.31h3.3M623.45,76.31h-3.3M440.5,83.3h6.4M623.45,83.3h-6.4M440.5,85.55h3.3M623.45,85.55h-3.3M440.5,90.29h3.3M623.45,90.29h-3.3M440.5,99.54h3.3M623.45,99.54h-3.3M440.5,106.53h6.4M623.45,106.53h-6.4M440.5,108.78h3.3M623.45,108.78h-3.3M440.5,113.53h3.3M623.45,113.53h-3.3M440.5,122.77h3.3M623.45,122.77h-3.3M440.5,129.77h6.4M623.45,129.77h-6.4M440.5,132.02h3.3M623.45,132.02h-3.3M440.5,136.76h3.3M623.45,136.76h-3.3M440.5,146.01h3.3M623.45,146.01h-3.3M440.5,153h6.4M623.45,153h-6.4M440.5,155.25h3.3M623.45,155.25h-3.3M440.5,159.99h3.3M623.45,159.99h-3.3M440.5,169.24h3.3M623.45,169.24h-3.3M440.5,176.23h6.4M623.45,176.23h-6.4M440.5,178.48h3.3M623.45,178.48h-3.3M440.5,183.23h3.3M623.45,183.23h-3.3M440.5,192.47h3.3M623.45,192.47h-3.3M440.5,199.47h6.4M623.45,199.47h-6.4M440.5,201.72h3.3M623.45,201.72h-3.3M440.5,206.46h3.3M623.45,206.46h-3.3M440.5,215.71h3.3M623.45,215.71h-3.3M468.04,222.7v-3.3M468.04,13.6v3.3M484.14,222.7v-3.3M484.14,13.6v3.3M495.57,222.7v-3.3M495.57,13.6v3.3M504.44,222.7v-3.3M504.44,13.6v3.3M511.68,222.7v-3.3M511.68,13.6v3.3M517.81,222.7v-3.3M517.81,13.6v3.3M523.11,222.7v-3.3M523.11,13.6v3.3M527.79,222.7v-3.3M527.79,13.6v3.3M531.98,222.7v-6.4M531.98,13.6v6.4M559.51,222.7v-3.3M559.51,13.6v3.3M575.62,222.7v-3.3M575.62,13.6v3.3M587.05,222.7v-3.3M587.05,13.6v3.3M595.91,222.7v-3.3M595.91,13.6v3.3M603.16,222.7v-3.3M603.16,13.6v3.3M609.28,222.7v-3.3M609.28,13.6v3.3M614.59,222.7v-3.3M614.59,13.6v3.3M619.26,222.7v-3.3M619.26,13.6v3.3" stroke="#000" stroke-width="0.6" fill="none"/>
<rect x="440.5" y="13.6" width="182.95" height="209.1" fill="none" stroke="#000" stroke-width="1.4"/>
<text transform="translate(714.9,39.45) scale(1,1.09)" font-size="15" class="t">Stokes V</text>
<g clip-path="url(#c3)"><polyline fill="none" stroke="#9400D3" stroke-width="0.85" stroke-linejoin="round" points="640,46.48 656.11,48.1 667.54,50.42 683.66,52.51 703.96,59.7 720.07,66.9 731.5,72.7 747.61,80.58 759.04,86.15 775.16,94.5 795.46,104.71 811.57,112.83 823,118.86"/></g>
<rect x="636.95" y="43.43" width="6.1" height="6.1" fill="#9400D3"/>
<rect x="653.06" y="45.05" width="6.1" height="6.1" fill="#9400D3"/>
<rect x="664.49" y="47.37" width="6.1" height="6.1" fill="#9400D3"/>
<rect x="680.61" y="49.46" width="6.1" height="6.1" fill="#9400D3"/>
<rect x="700.91" y="56.65" width="6.1" height="6.1" fill="#9400D3"/>
<rect x="717.02" y="63.85" width="6.1" height="6.1" fill="#9400D3"/>
<rect x="728.45" y="69.65" width="6.1" height="6.1" fill="#9400D3"/>
<rect x="744.56" y="77.53" width="6.1" height="6.1" fill="#9400D3"/>
<rect x="755.99" y="83.1" width="6.1" height="6.1" fill="#9400D3"/>
<rect x="772.11" y="91.45" width="6.1" height="6.1" fill="#9400D3"/>
<rect x="792.41" y="101.66" width="6.1" height="6.1" fill="#9400D3"/>
<rect x="808.52" y="109.78" width="6.1" height="6.1" fill="#9400D3"/>
<rect x="819.95" y="115.81" width="6.1" height="6.1" fill="#9400D3"/>
<g clip-path="url(#c3)"><polyline fill="none" stroke="#009E73" stroke-width="0.85" stroke-linejoin="round" points="640,43.23 656.11,49.73 667.54,54.02 683.66,59.47 703.96,66.2 720.07,74.32 731.5,79.89 747.61,88.01 759.04,93.58 775.16,101.46 795.46,112.37 811.57,120.72 823,126.4"/></g>
<circle cx="640" cy="43.23" r="3.25" fill="#009E73"/>
<circle cx="656.11" cy="49.73" r="3.25" fill="#009E73"/>
<circle cx="667.54" cy="54.02" r="3.25" fill="#009E73"/>
<circle cx="683.66" cy="59.47" r="3.25" fill="#009E73"/>
<circle cx="703.96" cy="66.2" r="3.25" fill="#009E73"/>
<circle cx="720.07" cy="74.32" r="3.25" fill="#009E73"/>
<circle cx="731.5" cy="79.89" r="3.25" fill="#009E73"/>
<circle cx="747.61" cy="88.01" r="3.25" fill="#009E73"/>
<circle cx="759.04" cy="93.58" r="3.25" fill="#009E73"/>
<circle cx="775.16" cy="101.46" r="3.25" fill="#009E73"/>
<circle cx="795.46" cy="112.37" r="3.25" fill="#009E73"/>
<circle cx="811.57" cy="120.72" r="3.25" fill="#009E73"/>
<circle cx="823" cy="126.4" r="3.25" fill="#009E73"/>
<g clip-path="url(#c3)"><polyline fill="none" stroke="#56B4E9" stroke-width="0.85" stroke-linejoin="round" points="640,38.82 656.11,48.22 667.54,51.12 683.66,55.76 703.96,63.88 720.07,73.16 731.5,80.82 747.61,90.1 759.04,96.13 775.16,104.71 795.46,114.92 811.57,123.04 823,129.19"/></g>
<polygon points="640,35.72 643.14,38 641.94,41.69 638.06,41.69 636.86,38" fill="#56B4E9"/>
<polygon points="656.11,45.12 659.25,47.4 658.05,51.09 654.17,51.09 652.97,47.4" fill="#56B4E9"/>
<polygon points="667.54,48.02 670.68,50.3 669.48,53.99 665.6,53.99 664.41,50.3" fill="#56B4E9"/>
<polygon points="683.66,52.66 686.8,54.94 685.6,58.63 681.72,58.63 680.52,54.94" fill="#56B4E9"/>
<polygon points="703.96,60.78 707.09,63.06 705.9,66.75 702.02,66.75 700.82,63.06" fill="#56B4E9"/>
<polygon points="720.07,70.06 723.21,72.34 722.01,76.03 718.13,76.03 716.93,72.34" fill="#56B4E9"/>
<polygon points="731.5,77.72 734.64,80 733.44,83.69 729.56,83.69 728.36,80" fill="#56B4E9"/>
<polygon points="747.61,87 750.75,89.28 749.55,92.97 745.67,92.97 744.47,89.28" fill="#56B4E9"/>
<polygon points="759.04,93.03 762.18,95.31 760.98,99 757.1,99 755.91,95.31" fill="#56B4E9"/>
<polygon points="775.16,101.61 778.3,103.89 777.1,107.58 773.22,107.58 772.02,103.89" fill="#56B4E9"/>
<polygon points="795.46,111.82 798.59,114.1 797.4,117.79 793.52,117.79 792.32,114.1" fill="#56B4E9"/>
<polygon points="811.57,119.94 814.71,122.22 813.51,125.91 809.63,125.91 808.43,122.22" fill="#56B4E9"/>
<polygon points="823,126.09 826.14,128.37 824.94,132.06 821.06,132.06 819.86,128.37" fill="#56B4E9"/>
<g clip-path="url(#c3)"><polyline fill="none" stroke="#E69F00" stroke-width="0.85" stroke-linejoin="round" points="640,44.16 656.11,47.18 667.54,51.82 683.66,56.92 703.96,64.81 720.07,76.64 731.5,84.76 747.61,96.13 759.04,103.78 775.16,101.7 795.46,47.41 811.57,-29.85 823,-32.4"/></g>
<polygon points="640,40.43 643.6,46.03 636.4,46.03" fill="#E69F00"/>
<polygon points="656.11,43.44 659.71,49.04 652.51,49.04" fill="#E69F00"/>
<polygon points="667.54,48.08 671.14,53.68 663.94,53.68" fill="#E69F00"/>
<polygon points="683.66,53.19 687.26,58.79 680.06,58.79" fill="#E69F00"/>
<polygon points="703.96,61.07 707.56,66.67 700.36,66.67" fill="#E69F00"/>
<polygon points="720.07,72.91 723.67,78.51 716.47,78.51" fill="#E69F00"/>
<polygon points="731.5,81.03 735.1,86.63 727.9,86.63" fill="#E69F00"/>
<polygon points="747.61,92.39 751.21,97.99 744.01,97.99" fill="#E69F00"/>
<polygon points="759.04,100.05 762.64,105.65 755.44,105.65" fill="#E69F00"/>
<polygon points="775.16,97.96 778.76,103.56 771.56,103.56" fill="#E69F00"/>
<polygon points="795.46,43.67 799.06,49.27 791.86,49.27" fill="#E69F00"/>
<g clip-path="url(#c3)"><polyline fill="none" stroke="#F0E442" stroke-width="0.85" stroke-linejoin="round" points="640,41.03 656.11,43.93 667.54,56.57 683.66,38.13 703.96,-8.27 720.07,-32.4 731.5,-32.4 747.61,-32.4 759.04,-32.4 775.16,-32.4 795.46,-32.4 811.57,-32.4 823,-32.4"/></g>
<polygon points="640,44.76 643.6,39.16 636.4,39.16" fill="#F0E442"/>
<polygon points="656.11,47.66 659.71,42.06 652.51,42.06" fill="#F0E442"/>
<polygon points="667.54,60.31 671.14,54.71 663.94,54.71" fill="#F0E442"/>
<polygon points="683.66,41.86 687.26,36.26 680.06,36.26" fill="#F0E442"/>
<g clip-path="url(#c3)"><polyline fill="none" stroke="#0072B2" stroke-width="0.85" stroke-linejoin="round" points="640,44.97 656.11,46.13 667.54,46.48 683.66,52.51 703.96,59.7 720.07,71.77 731.5,84.3 747.61,95.78 759.04,103.55 775.16,115.85 795.46,130.7 811.57,142.88 823,151.92"/></g>
<polygon points="640,41.47 643.25,44.97 640,48.47 636.75,44.97" fill="#0072B2"/>
<polygon points="656.11,42.63 659.36,46.13 656.11,49.63 652.86,46.13" fill="#0072B2"/>
<polygon points="667.54,42.98 670.79,46.48 667.54,49.98 664.29,46.48" fill="#0072B2"/>
<polygon points="683.66,49.01 686.91,52.51 683.66,56.01 680.41,52.51" fill="#0072B2"/>
<polygon points="703.96,56.2 707.21,59.7 703.96,63.2 700.71,59.7" fill="#0072B2"/>
<polygon points="720.07,68.27 723.32,71.77 720.07,75.27 716.82,71.77" fill="#0072B2"/>
<polygon points="731.5,80.8 734.75,84.3 731.5,87.8 728.25,84.3" fill="#0072B2"/>
<polygon points="747.61,92.28 750.86,95.78 747.61,99.28 744.36,95.78" fill="#0072B2"/>
<polygon points="759.04,100.05 762.29,103.55 759.04,107.05 755.79,103.55" fill="#0072B2"/>
<polygon points="775.16,112.35 778.41,115.85 775.16,119.35 771.91,115.85" fill="#0072B2"/>
<polygon points="795.46,127.2 798.71,130.7 795.46,134.2 792.21,130.7" fill="#0072B2"/>
<polygon points="811.57,139.38 814.82,142.88 811.57,146.38 808.32,142.88" fill="#0072B2"/>
<polygon points="823,148.42 826.25,151.92 823,155.42 819.75,151.92" fill="#0072B2"/>
<g clip-path="url(#c3)"><polyline fill="none" stroke="#000000" stroke-width="0.85" stroke-linejoin="round" points="640,-14.54 656.11,36.27 667.54,41.72 683.66,51.93 703.96,67.59 720.07,83.83 731.5,94.97 747.61,110.74 759.04,121.88 775.16,138.7 795.46,159.46 811.57,173.38 823,180.81"/></g>
<polygon points="656.11,33.17 659.25,35.45 658.05,39.14 654.17,39.14 652.97,35.45" fill="#000000"/>
<polygon points="667.54,38.62 670.68,40.9 669.48,44.59 665.6,44.59 664.41,40.9" fill="#000000"/>
<polygon points="683.66,48.83 686.8,51.11 685.6,54.8 681.72,54.8 680.52,51.11" fill="#000000"/>
<polygon points="703.96,64.49 707.09,66.77 705.9,70.46 702.02,70.46 700.82,66.77" fill="#000000"/>
<polygon points="720.07,80.73 723.21,83.01 722.01,86.7 718.13,86.7 716.93,83.01" fill="#000000"/>
<polygon points="731.5,91.87 734.64,94.15 733.44,97.84 729.56,97.84 728.36,94.15" fill="#000000"/>
<polygon points="747.61,107.64 750.75,109.92 749.55,113.61 745.67,113.61 744.47,109.92" fill="#000000"/>
<polygon points="759.04,118.78 762.18,121.06 760.98,124.75 757.1,124.75 755.91,121.06" fill="#000000"/>
<polygon points="775.16,135.6 778.3,137.88 777.1,141.57 773.22,141.57 772.02,137.88" fill="#000000"/>
<polygon points="795.46,156.36 798.59,158.64 797.4,162.33 793.52,162.33 792.32,158.64" fill="#000000"/>
<polygon points="811.57,170.28 814.71,172.56 813.51,176.25 809.63,176.25 808.43,172.56" fill="#000000"/>
<polygon points="823,177.71 826.14,179.99 824.94,183.68 821.06,183.68 819.86,179.99" fill="#000000"/>
<g clip-path="url(#c3)"><polyline fill="none" stroke="#E51E10" stroke-width="0.85" stroke-linejoin="round" points="640,-15.93 656.11,41.38 667.54,45.78 683.66,56.34 703.96,72.7 720.07,88.01 731.5,99.49 747.61,115.5 759.04,126.4 775.16,143.46 795.46,164.34 811.57,176.63 823,183.36"/></g>
<circle cx="656.11" cy="41.38" r="3.25" fill="#E51E10"/>
<circle cx="667.54" cy="45.78" r="3.25" fill="#E51E10"/>
<circle cx="683.66" cy="56.34" r="3.25" fill="#E51E10"/>
<circle cx="703.96" cy="72.7" r="3.25" fill="#E51E10"/>
<circle cx="720.07" cy="88.01" r="3.25" fill="#E51E10"/>
<circle cx="731.5" cy="99.49" r="3.25" fill="#E51E10"/>
<circle cx="747.61" cy="115.5" r="3.25" fill="#E51E10"/>
<circle cx="759.04" cy="126.4" r="3.25" fill="#E51E10"/>
<circle cx="775.16" cy="143.46" r="3.25" fill="#E51E10"/>
<circle cx="795.46" cy="164.34" r="3.25" fill="#E51E10"/>
<circle cx="811.57" cy="176.63" r="3.25" fill="#E51E10"/>
<circle cx="823" cy="183.36" r="3.25" fill="#E51E10"/>
<path d="M640,15.85h3.3M822.95,15.85h-3.3M640,20.59h3.3M822.95,20.59h-3.3M640,29.84h3.3M822.95,29.84h-3.3M640,36.83h6.4M822.95,36.83h-6.4M640,39.08h3.3M822.95,39.08h-3.3M640,43.83h3.3M822.95,43.83h-3.3M640,53.07h3.3M822.95,53.07h-3.3M640,60.07h6.4M822.95,60.07h-6.4M640,62.32h3.3M822.95,62.32h-3.3M640,67.06h3.3M822.95,67.06h-3.3M640,76.31h3.3M822.95,76.31h-3.3M640,83.3h6.4M822.95,83.3h-6.4M640,85.55h3.3M822.95,85.55h-3.3M640,90.29h3.3M822.95,90.29h-3.3M640,99.54h3.3M822.95,99.54h-3.3M640,106.53h6.4M822.95,106.53h-6.4M640,108.78h3.3M822.95,108.78h-3.3M640,113.53h3.3M822.95,113.53h-3.3M640,122.77h3.3M822.95,122.77h-3.3M640,129.77h6.4M822.95,129.77h-6.4M640,132.02h3.3M822.95,132.02h-3.3M640,136.76h3.3M822.95,136.76h-3.3M640,146.01h3.3M822.95,146.01h-3.3M640,153h6.4M822.95,153h-6.4M640,155.25h3.3M822.95,155.25h-3.3M640,159.99h3.3M822.95,159.99h-3.3M640,169.24h3.3M822.95,169.24h-3.3M640,176.23h6.4M822.95,176.23h-6.4M640,178.48h3.3M822.95,178.48h-3.3M640,183.23h3.3M822.95,183.23h-3.3M640,192.47h3.3M822.95,192.47h-3.3M640,199.47h6.4M822.95,199.47h-6.4M640,201.72h3.3M822.95,201.72h-3.3M640,206.46h3.3M822.95,206.46h-3.3M640,215.71h3.3M822.95,215.71h-3.3M667.54,222.7v-3.3M667.54,13.6v3.3M683.64,222.7v-3.3M683.64,13.6v3.3M695.07,222.7v-3.3M695.07,13.6v3.3M703.94,222.7v-3.3M703.94,13.6v3.3M711.18,222.7v-3.3M711.18,13.6v3.3M717.31,222.7v-3.3M717.31,13.6v3.3M722.61,222.7v-3.3M722.61,13.6v3.3M727.29,222.7v-3.3M727.29,13.6v3.3M731.48,222.7v-6.4M731.48,13.6v6.4M759.01,222.7v-3.3M759.01,13.6v3.3M775.12,222.7v-3.3M775.12,13.6v3.3M786.55,222.7v-3.3M786.55,13.6v3.3M795.41,222.7v-3.3M795.41,13.6v3.3M802.66,222.7v-3.3M802.66,13.6v3.3M808.78,222.7v-3.3M808.78,13.6v3.3M814.09,222.7v-3.3M814.09,13.6v3.3M818.76,222.7v-3.3M818.76,13.6v3.3" stroke="#000" stroke-width="0.6" fill="none"/>
<rect x="640" y="13.6" width="182.95" height="209.1" fill="none" stroke="#000" stroke-width="1.4"/>
<text transform="translate(116.35,267.6) scale(1,1.09)" font-size="15" class="t">Stokes I</text>
<g clip-path="url(#c4)"><polyline fill="none" stroke="#9400D3" stroke-width="0.85" stroke-linejoin="round" points="41.5,279.84 57.61,283.55 69.04,285.98 85.16,295.37 105.46,308.82 121.57,315.55 133,321.11 149.11,326.68 160.54,330.16 176.66,337.58 196.96,347.09 213.07,354.51 224.5,360.42"/></g>
<rect x="38.45" y="276.79" width="6.1" height="6.1" fill="#9400D3"/>
<rect x="54.56" y="280.5" width="6.1" height="6.1" fill="#9400D3"/>
<rect x="65.99" y="282.93" width="6.1" height="6.1" fill="#9400D3"/>
<rect x="82.11" y="292.32" width="6.1" height="6.1" fill="#9400D3"/>
<rect x="102.41" y="305.77" width="6.1" height="6.1" fill="#9400D3"/>
<rect x="118.52" y="312.5" width="6.1" height="6.1" fill="#9400D3"/>
<rect x="129.95" y="318.06" width="6.1" height="6.1" fill="#9400D3"/>
<rect x="146.06" y="323.63" width="6.1" height="6.1" fill="#9400D3"/>
<rect x="157.49" y="327.11" width="6.1" height="6.1" fill="#9400D3"/>
<rect x="173.61" y="334.53" width="6.1" height="6.1" fill="#9400D3"/>
<rect x="193.91" y="344.04" width="6.1" height="6.1" fill="#9400D3"/>
<rect x="210.02" y="351.46" width="6.1" height="6.1" fill="#9400D3"/>
<rect x="221.45" y="357.37" width="6.1" height="6.1" fill="#9400D3"/>
<g clip-path="url(#c4)"><polyline fill="none" stroke="#009E73" stroke-width="0.85" stroke-linejoin="round" points="41.5,280.07 57.61,283.78 69.04,286.56 85.16,295.84 105.46,308.82 121.57,315.78 133,321.81 149.11,330.16 160.54,332.25 176.66,341.52 196.96,352.65 213.07,360.42 224.5,366.33"/></g>
<circle cx="41.5" cy="280.07" r="3.25" fill="#009E73"/>
<circle cx="57.61" cy="283.78" r="3.25" fill="#009E73"/>
<circle cx="69.04" cy="286.56" r="3.25" fill="#009E73"/>
<circle cx="85.16" cy="295.84" r="3.25" fill="#009E73"/>
<circle cx="105.46" cy="308.82" r="3.25" fill="#009E73"/>
<circle cx="121.57" cy="315.78" r="3.25" fill="#009E73"/>
<circle cx="133" cy="321.81" r="3.25" fill="#009E73"/>
<circle cx="149.11" cy="330.16" r="3.25" fill="#009E73"/>
<circle cx="160.54" cy="332.25" r="3.25" fill="#009E73"/>
<circle cx="176.66" cy="341.52" r="3.25" fill="#009E73"/>
<circle cx="196.96" cy="352.65" r="3.25" fill="#009E73"/>
<circle cx="213.07" cy="360.42" r="3.25" fill="#009E73"/>
<circle cx="224.5" cy="366.33" r="3.25" fill="#009E73"/>
<g clip-path="url(#c4)"><polyline fill="none" stroke="#56B4E9" stroke-width="0.85" stroke-linejoin="round" points="41.5,279.84 57.61,283.55 69.04,286.21 85.16,295.37 105.46,309.06 121.57,316.71 133,321.81 149.11,327.14 160.54,330.62 176.66,338.04 196.96,348.01 213.07,356.02 224.5,364.6"/></g>
<polygon points="41.5,276.74 44.64,279.02 43.44,282.71 39.56,282.71 38.36,279.02" fill="#56B4E9"/>
<polygon points="57.61,280.45 60.75,282.73 59.55,286.42 55.67,286.42 54.47,282.73" fill="#56B4E9"/>
<polygon points="69.04,283.11 72.18,285.39 70.98,289.08 67.1,289.08 65.91,285.39" fill="#56B4E9"/>
<polygon points="85.16,292.27 88.3,294.55 87.1,298.24 83.22,298.24 82.02,294.55" fill="#56B4E9"/>
<polygon points="105.46,305.96 108.59,308.24 107.4,311.93 103.52,311.93 102.32,308.24" fill="#56B4E9"/>
<polygon points="121.57,313.61 124.71,315.89 123.51,319.58 119.63,319.58 118.43,315.89" fill="#56B4E9"/>
<polygon points="133,318.71 136.14,320.99 134.94,324.68 131.06,324.68 129.86,320.99" fill="#56B4E9"/>
<polygon points="149.11,324.04 152.25,326.32 151.05,330.01 147.17,330.01 145.97,326.32" fill="#56B4E9"/>
<polygon points="160.54,327.52 163.68,329.8 162.48,333.49 158.6,333.49 157.41,329.8" fill="#56B4E9"/>
<polygon points="176.66,334.94 179.8,337.22 178.6,340.91 174.72,340.91 173.52,337.22" fill="#56B4E9"/>
<polygon points="196.96,344.91 200.09,347.19 198.9,350.88 195.02,350.88 193.82,347.19" fill="#56B4E9"/>
<polygon points="213.07,352.92 216.21,355.2 215.01,358.88 211.13,358.88 209.93,355.2" fill="#56B4E9"/>
<polygon points="224.5,361.5 227.64,363.78 226.44,367.47 222.56,367.47 221.36,363.78" fill="#56B4E9"/>
<g clip-path="url(#c4)"><polyline fill="none" stroke="#E69F00" stroke-width="0.85" stroke-linejoin="round" points="41.5,279.84 57.61,272.65 69.04,275.89 85.16,283.2 105.46,296.53 121.57,310.68 133,322.04 149.11,328.3 160.54,333.17 176.66,338.51 196.96,161.33 213.07,126.55 224.5,126.55"/></g>
<polygon points="41.5,276.1 45.1,281.7 37.9,281.7" fill="#E69F00"/>
<polygon points="57.61,268.91 61.21,274.51 54.01,274.51" fill="#E69F00"/>
<polygon points="69.04,272.16 72.64,277.76 65.44,277.76" fill="#E69F00"/>
<polygon points="85.16,279.47 88.76,285.07 81.56,285.07" fill="#E69F00"/>
<polygon points="105.46,292.8 109.06,298.4 101.86,298.4" fill="#E69F00"/>
<polygon points="121.57,306.95 125.17,312.55 117.97,312.55" fill="#E69F00"/>
<polygon points="133,318.31 136.6,323.91 129.4,323.91" fill="#E69F00"/>
<polygon points="149.11,324.57 152.71,330.17 145.51,330.17" fill="#E69F00"/>
<polygon points="160.54,329.44 164.14,335.04 156.94,335.04" fill="#E69F00"/>
<polygon points="176.66,334.77 180.26,340.37 173.06,340.37" fill="#E69F00"/>
<g clip-path="url(#c4)"><polyline fill="none" stroke="#F0E442" stroke-width="0.85" stroke-linejoin="round" points="41.5,279.84 57.61,272.65 69.04,275.89 85.16,283.2 105.46,284.47 121.57,216.99 133,196.12 149.11,196.12 160.54,196.12 176.66,196.12 196.96,196.12 213.07,196.12 224.5,196.12"/></g>
<polygon points="41.5,283.57 45.1,277.97 37.9,277.97" fill="#F0E442"/>
<polygon points="57.61,276.38 61.21,270.78 54.01,270.78" fill="#F0E442"/>
<polygon points="69.04,279.63 72.64,274.03 65.44,274.03" fill="#F0E442"/>
<polygon points="85.16,286.93 88.76,281.33 81.56,281.33" fill="#F0E442"/>
<polygon points="105.46,288.21 109.06,282.61 101.86,282.61" fill="#F0E442"/>
<g clip-path="url(#c4)"><polyline fill="none" stroke="#0072B2" stroke-width="0.85" stroke-linejoin="round" points="41.5,263.14 57.61,283.55 69.04,290.5 85.16,299.32 105.46,307.43 121.57,318.56 133,321.93 149.11,327.61 160.54,330.39 176.66,338.51 196.96,348.94 213.07,373.52 224.5,375.96"/></g>
<polygon points="41.5,259.64 44.75,263.14 41.5,266.64 38.25,263.14" fill="#0072B2"/>
<polygon points="57.61,280.05 60.86,283.55 57.61,287.05 54.36,283.55" fill="#0072B2"/>
<polygon points="69.04,287 72.29,290.5 69.04,294 65.79,290.5" fill="#0072B2"/>
<polygon points="85.16,295.82 88.41,299.32 85.16,302.82 81.91,299.32" fill="#0072B2"/>
<polygon points="105.46,303.93 108.71,307.43 105.46,310.93 102.21,307.43" fill="#0072B2"/>
<polygon points="121.57,315.06 124.82,318.56 121.57,322.06 118.32,318.56" fill="#0072B2"/>
<polygon points="133,318.43 136.25,321.93 133,325.43 129.75,321.93" fill="#0072B2"/>
<polygon points="149.11,324.11 152.36,327.61 149.11,331.11 145.86,327.61" fill="#0072B2"/>
<polygon points="160.54,326.89 163.79,330.39 160.54,333.89 157.29,330.39" fill="#0072B2"/>
<polygon points="176.66,335.01 179.91,338.51 176.66,342.01 173.41,338.51" fill="#0072B2"/>
<polygon points="196.96,345.44 200.21,348.94 196.96,352.44 193.71,348.94" fill="#0072B2"/>
<polygon points="213.07,370.02 216.32,373.52 213.07,377.02 209.82,373.52" fill="#0072B2"/>
<polygon points="224.5,372.46 227.75,375.96 224.5,379.46 221.25,375.96" fill="#0072B2"/>
<g clip-path="url(#c4)"><polyline fill="none" stroke="#000000" stroke-width="0.85" stroke-linejoin="round" points="41.5,149.74 57.61,149.74 69.04,149.74 85.16,172.93 105.46,219.31 121.57,283.78 133,278.44 149.11,271.95 160.54,322.74 176.66,342.45 196.96,364.02 213.07,373.52 224.5,385.58"/></g>
<polygon points="121.57,280.68 124.71,282.96 123.51,286.65 119.63,286.65 118.43,282.96" fill="#000000"/>
<polygon points="133,275.34 136.14,277.62 134.94,281.31 131.06,281.31 129.86,277.62" fill="#000000"/>
<polygon points="149.11,268.85 152.25,271.13 151.05,274.82 147.17,274.82 145.97,271.13" fill="#000000"/>
<polygon points="160.54,319.64 163.68,321.92 162.48,325.61 158.6,325.61 157.41,321.92" fill="#000000"/>
<polygon points="176.66,339.35 179.8,341.63 178.6,345.32 174.72,345.32 173.52,341.63" fill="#000000"/>
<polygon points="196.96,360.92 200.09,363.2 198.9,366.89 195.02,366.89 193.82,363.2" fill="#000000"/>
<polygon points="213.07,370.42 216.21,372.7 215.01,376.39 211.13,376.39 209.93,372.7" fill="#000000"/>
<polygon points="224.5,382.48 227.64,384.76 226.44,388.45 222.56,388.45 221.36,384.76" fill="#000000"/>
<g clip-path="url(#c4)"><polyline fill="none" stroke="#E51E10" stroke-width="0.85" stroke-linejoin="round" points="41.5,245.05 57.61,149.74 69.04,149.74 85.16,172.93 105.46,242.04 121.57,283.78 133,287.84 149.11,301.98 160.54,322.74 176.66,342.45 196.96,364.02 213.07,373.52 224.5,385.58"/></g>
<circle cx="41.5" cy="245.05" r="3.25" fill="#E51E10"/>
<circle cx="121.57" cy="283.78" r="3.25" fill="#E51E10"/>
<circle cx="133" cy="287.84" r="3.25" fill="#E51E10"/>
<circle cx="149.11" cy="301.98" r="3.25" fill="#E51E10"/>
<circle cx="160.54" cy="322.74" r="3.25" fill="#E51E10"/>
<circle cx="176.66" cy="342.45" r="3.25" fill="#E51E10"/>
<circle cx="196.96" cy="364.02" r="3.25" fill="#E51E10"/>
<circle cx="213.07" cy="373.52" r="3.25" fill="#E51E10"/>
<circle cx="224.5" cy="385.58" r="3.25" fill="#E51E10"/>
<path d="M41.45,244.65h3.3M224.4,244.65h-3.3M41.45,249.39h3.3M224.4,249.39h-3.3M41.45,258.64h3.3M224.4,258.64h-3.3M41.45,265.63h6.4M224.4,265.63h-6.4M41.45,267.88h3.3M224.4,267.88h-3.3M41.45,272.63h3.3M224.4,272.63h-3.3M41.45,281.87h3.3M224.4,281.87h-3.3M41.45,288.87h6.4M224.4,288.87h-6.4M41.45,291.12h3.3M224.4,291.12h-3.3M41.45,295.86h3.3M224.4,295.86h-3.3M41.45,305.11h3.3M224.4,305.11h-3.3M41.45,312.1h6.4M224.4,312.1h-6.4M41.45,314.35h3.3M224.4,314.35h-3.3M41.45,319.09h3.3M224.4,319.09h-3.3M41.45,328.34h3.3M224.4,328.34h-3.3M41.45,335.33h6.4M224.4,335.33h-6.4M41.45,337.58h3.3M224.4,337.58h-3.3M41.45,342.33h3.3M224.4,342.33h-3.3M41.45,351.57h3.3M224.4,351.57h-3.3M41.45,358.57h6.4M224.4,358.57h-6.4M41.45,360.82h3.3M224.4,360.82h-3.3M41.45,365.56h3.3M224.4,365.56h-3.3M41.45,374.81h3.3M224.4,374.81h-3.3M41.45,381.8h6.4M224.4,381.8h-6.4M41.45,384.05h3.3M224.4,384.05h-3.3M41.45,388.79h3.3M224.4,388.79h-3.3M41.45,398.04h3.3M224.4,398.04h-3.3M41.45,405.03h6.4M224.4,405.03h-6.4M41.45,407.28h3.3M224.4,407.28h-3.3M41.45,412.03h3.3M224.4,412.03h-3.3M41.45,421.27h3.3M224.4,421.27h-3.3M41.45,428.27h6.4M224.4,428.27h-6.4M41.45,430.52h3.3M224.4,430.52h-3.3M41.45,435.26h3.3M224.4,435.26h-3.3M41.45,444.51h3.3M224.4,444.51h-3.3M68.99,451.5v-3.3M68.99,242.4v3.3M85.09,451.5v-3.3M85.09,242.4v3.3M96.52,451.5v-3.3M96.52,242.4v3.3M105.39,451.5v-3.3M105.39,242.4v3.3M112.63,451.5v-3.3M112.63,242.4v3.3M118.76,451.5v-3.3M118.76,242.4v3.3M124.06,451.5v-3.3M124.06,242.4v3.3M128.74,451.5v-3.3M128.74,242.4v3.3M132.93,451.5v-6.4M132.93,242.4v6.4M160.46,451.5v-3.3M160.46,242.4v3.3M176.57,451.5v-3.3M176.57,242.4v3.3M188,451.5v-3.3M188,242.4v3.3M196.86,451.5v-3.3M196.86,242.4v3.3M204.11,451.5v-3.3M204.11,242.4v3.3M210.23,451.5v-3.3M210.23,242.4v3.3M215.54,451.5v-3.3M215.54,242.4v3.3M220.21,451.5v-3.3M220.21,242.4v3.3" stroke="#000" stroke-width="0.6" fill="none"/>
<rect x="41.45" y="242.4" width="182.95" height="209.1" fill="none" stroke="#000" stroke-width="1.4"/>
<text transform="translate(41.15,470.3) scale(1,1.02)" font-size="10" text-anchor="middle" class="t">1</text>
<text transform="translate(132.62,470.3) scale(1,1.02)" font-size="10" text-anchor="middle" class="t">10</text>
<text transform="translate(224.1,470.3) scale(1,1.02)" font-size="10" text-anchor="middle" class="t">100</text>
<text x="132.93" y="482.5" font-size="11.85" text-anchor="middle" class="t">points-per-decade</text>
<text transform="translate(32.8,246.5) scale(1,1.02)" font-size="10" text-anchor="end" class="t">10<tspan font-size="7.7" dy="-5.3" dx="0.4">1</tspan></text>
<text transform="translate(32.8,269.73) scale(1,1.02)" font-size="10" text-anchor="end" class="t">10<tspan font-size="7.7" dy="-5.3" dx="0.4">0</tspan></text>
<text transform="translate(32.8,292.97) scale(1,1.02)" font-size="10" text-anchor="end" class="t">10<tspan font-size="7.7" dy="-5.3" dx="0.4">-1</tspan></text>
<text transform="translate(32.8,316.2) scale(1,1.02)" font-size="10" text-anchor="end" class="t">10<tspan font-size="7.7" dy="-5.3" dx="0.4">-2</tspan></text>
<text transform="translate(32.8,339.43) scale(1,1.02)" font-size="10" text-anchor="end" class="t">10<tspan font-size="7.7" dy="-5.3" dx="0.4">-3</tspan></text>
<text transform="translate(32.8,362.67) scale(1,1.02)" font-size="10" text-anchor="end" class="t">10<tspan font-size="7.7" dy="-5.3" dx="0.4">-4</tspan></text>
<text transform="translate(32.8,385.9) scale(1,1.02)" font-size="10" text-anchor="end" class="t">10<tspan font-size="7.7" dy="-5.3" dx="0.4">-5</tspan></text>
<text transform="translate(32.8,409.13) scale(1,1.02)" font-size="10" text-anchor="end" class="t">10<tspan font-size="7.7" dy="-5.3" dx="0.4">-6</tspan></text>
<text transform="translate(32.8,432.37) scale(1,1.02)" font-size="10" text-anchor="end" class="t">10<tspan font-size="7.7" dy="-5.3" dx="0.4">-7</tspan></text>
<text transform="translate(32.8,455.6) scale(1,1.02)" font-size="10" text-anchor="end" class="t">10<tspan font-size="7.7" dy="-5.3" dx="0.4">-8</tspan></text>
<text transform="translate(9.3,354.25) rotate(-90)" font-size="12" class="t">E<tspan font-size="10.2" dy="3.1">N</tspan></text>
<text transform="translate(315.95,267.6) scale(1,1.09)" font-size="15" class="t">Stokes Q</text>
<g clip-path="url(#c5)"><polyline fill="none" stroke="#9400D3" stroke-width="0.85" stroke-linejoin="round" points="241,265.11 257.11,271.14 268.54,263.83 284.66,264.3 304.96,279.14 321.07,284.71 332.5,292.36 348.61,299.9 360.04,305.81 376.16,313.58 396.46,323.78 412.57,331.78 424,337.69"/></g>
<rect x="237.95" y="262.06" width="6.1" height="6.1" fill="#9400D3"/>
<rect x="254.06" y="268.09" width="6.1" height="6.1" fill="#9400D3"/>
<rect x="265.49" y="260.78" width="6.1" height="6.1" fill="#9400D3"/>
<rect x="281.61" y="261.25" width="6.1" height="6.1" fill="#9400D3"/>
<rect x="301.91" y="276.09" width="6.1" height="6.1" fill="#9400D3"/>
<rect x="318.02" y="281.66" width="6.1" height="6.1" fill="#9400D3"/>
<rect x="329.45" y="289.31" width="6.1" height="6.1" fill="#9400D3"/>
<rect x="345.56" y="296.85" width="6.1" height="6.1" fill="#9400D3"/>
<rect x="356.99" y="302.76" width="6.1" height="6.1" fill="#9400D3"/>
<rect x="373.11" y="310.53" width="6.1" height="6.1" fill="#9400D3"/>
<rect x="393.41" y="320.73" width="6.1" height="6.1" fill="#9400D3"/>
<rect x="409.52" y="328.73" width="6.1" height="6.1" fill="#9400D3"/>
<rect x="420.95" y="334.64" width="6.1" height="6.1" fill="#9400D3"/>
<g clip-path="url(#c5)"><polyline fill="none" stroke="#009E73" stroke-width="0.85" stroke-linejoin="round" points="241,265.11 257.11,270.33 268.54,263.83 284.66,264.3 304.96,279.14 321.07,284.71 332.5,292.36 348.61,299.9 360.04,305.81 376.16,313.58 396.46,323.78 412.57,331.78 424,337.69"/></g>
<circle cx="241" cy="265.11" r="3.25" fill="#009E73"/>
<circle cx="257.11" cy="270.33" r="3.25" fill="#009E73"/>
<circle cx="268.54" cy="263.83" r="3.25" fill="#009E73"/>
<circle cx="284.66" cy="264.3" r="3.25" fill="#009E73"/>
<circle cx="304.96" cy="279.14" r="3.25" fill="#009E73"/>
<circle cx="321.07" cy="284.71" r="3.25" fill="#009E73"/>
<circle cx="332.5" cy="292.36" r="3.25" fill="#009E73"/>
<circle cx="348.61" cy="299.9" r="3.25" fill="#009E73"/>
<circle cx="360.04" cy="305.81" r="3.25" fill="#009E73"/>
<circle cx="376.16" cy="313.58" r="3.25" fill="#009E73"/>
<circle cx="396.46" cy="323.78" r="3.25" fill="#009E73"/>
<circle cx="412.57" cy="331.78" r="3.25" fill="#009E73"/>
<circle cx="424" cy="337.69" r="3.25" fill="#009E73"/>
<g clip-path="url(#c5)"><polyline fill="none" stroke="#56B4E9" stroke-width="0.85" stroke-linejoin="round" points="241,269.86 257.11,268.7 268.54,274.15 284.66,283.2 304.96,287.49 321.07,301.17 332.5,305.58 348.61,310.68 360.04,314.39 376.16,320.07 396.46,328.42 412.57,336.07 424,345.23"/></g>
<polygon points="241,266.76 244.14,269.04 242.94,272.73 239.06,272.73 237.86,269.04" fill="#56B4E9"/>
<polygon points="257.11,265.6 260.25,267.88 259.05,271.57 255.17,271.57 253.97,267.88" fill="#56B4E9"/>
<polygon points="268.54,271.05 271.68,273.33 270.48,277.02 266.6,277.02 265.41,273.33" fill="#56B4E9"/>
<polygon points="284.66,280.1 287.8,282.38 286.6,286.07 282.72,286.07 281.52,282.38" fill="#56B4E9"/>
<polygon points="304.96,284.39 308.09,286.67 306.9,290.36 303.02,290.36 301.82,286.67" fill="#56B4E9"/>
<polygon points="321.07,298.07 324.21,300.35 323.01,304.04 319.13,304.04 317.93,300.35" fill="#56B4E9"/>
<polygon points="332.5,302.48 335.64,304.76 334.44,308.45 330.56,308.45 329.36,304.76" fill="#56B4E9"/>
<polygon points="348.61,307.58 351.75,309.86 350.55,313.55 346.67,313.55 345.47,309.86" fill="#56B4E9"/>
<polygon points="360.04,311.29 363.18,313.57 361.98,317.26 358.1,317.26 356.91,313.57" fill="#56B4E9"/>
<polygon points="376.16,316.97 379.3,319.25 378.1,322.94 374.22,322.94 373.02,319.25" fill="#56B4E9"/>
<polygon points="396.46,325.32 399.59,327.6 398.4,331.29 394.52,331.29 393.32,327.6" fill="#56B4E9"/>
<polygon points="412.57,332.97 415.71,335.25 414.51,338.94 410.63,338.94 409.43,335.25" fill="#56B4E9"/>
<polygon points="424,342.13 427.14,344.41 425.94,348.1 422.06,348.1 420.86,344.41" fill="#56B4E9"/>
<g clip-path="url(#c5)"><polyline fill="none" stroke="#E69F00" stroke-width="0.85" stroke-linejoin="round" points="241,265.11 257.11,252.47 268.54,261.52 284.66,234.38 304.96,246.67 321.07,260.36 332.5,268.12 348.61,237.17 360.04,196.12 376.16,196.12 396.46,196.12 412.57,196.12 424,196.12"/></g>
<polygon points="241,261.38 244.6,266.98 237.4,266.98" fill="#E69F00"/>
<polygon points="257.11,248.74 260.71,254.34 253.51,254.34" fill="#E69F00"/>
<polygon points="268.54,257.78 272.14,263.38 264.94,263.38" fill="#E69F00"/>
<polygon points="304.96,242.94 308.56,248.54 301.36,248.54" fill="#E69F00"/>
<polygon points="321.07,256.62 324.67,262.22 317.47,262.22" fill="#E69F00"/>
<polygon points="332.5,264.39 336.1,269.99 328.9,269.99" fill="#E69F00"/>
<g clip-path="url(#c5)"><polyline fill="none" stroke="#F0E442" stroke-width="0.85" stroke-linejoin="round" points="241,265.11 257.11,252.47 268.54,261.52 284.66,233.22 304.96,196.12 321.07,196.12 332.5,196.12 348.61,196.12 360.04,196.12 376.16,196.12 396.46,196.12 412.57,196.12 424,196.12"/></g>
<polygon points="241,268.84 244.6,263.24 237.4,263.24" fill="#F0E442"/>
<polygon points="257.11,256.21 260.71,250.61 253.51,250.61" fill="#F0E442"/>
<polygon points="268.54,265.25 272.14,259.65 264.94,259.65" fill="#F0E442"/>
<g clip-path="url(#c5)"><polyline fill="none" stroke="#0072B2" stroke-width="0.85" stroke-linejoin="round" points="241,254.56 257.11,271.14 268.54,272.3 284.66,281.69 304.96,290.5 321.07,297.11 332.5,301.87 348.61,307.9 360.04,312.42 376.16,319.84 396.46,328.53 412.57,346.04 424,358.57"/></g>
<polygon points="241,251.06 244.25,254.56 241,258.06 237.75,254.56" fill="#0072B2"/>
<polygon points="257.11,267.64 260.36,271.14 257.11,274.64 253.86,271.14" fill="#0072B2"/>
<polygon points="268.54,268.8 271.79,272.3 268.54,275.8 265.29,272.3" fill="#0072B2"/>
<polygon points="284.66,278.19 287.91,281.69 284.66,285.19 281.41,281.69" fill="#0072B2"/>
<polygon points="304.96,287 308.21,290.5 304.96,294 301.71,290.5" fill="#0072B2"/>
<polygon points="321.07,293.61 324.32,297.11 321.07,300.61 317.82,297.11" fill="#0072B2"/>
<polygon points="332.5,298.37 335.75,301.87 332.5,305.37 329.25,301.87" fill="#0072B2"/>
<polygon points="348.61,304.4 351.86,307.9 348.61,311.4 345.36,307.9" fill="#0072B2"/>
<polygon points="360.04,308.92 363.29,312.42 360.04,315.92 356.79,312.42" fill="#0072B2"/>
<polygon points="376.16,316.34 379.41,319.84 376.16,323.34 372.91,319.84" fill="#0072B2"/>
<polygon points="396.46,325.03 399.71,328.53 396.46,332.03 393.21,328.53" fill="#0072B2"/>
<polygon points="412.57,342.54 415.82,346.04 412.57,349.54 409.32,346.04" fill="#0072B2"/>
<polygon points="424,355.07 427.25,358.57 424,362.07 420.75,358.57" fill="#0072B2"/>
<g clip-path="url(#c5)"><polyline fill="none" stroke="#000000" stroke-width="0.85" stroke-linejoin="round" points="241,149.74 257.11,149.74 268.54,149.74 284.66,172.93 304.96,200.76 321.07,265.11 332.5,256.07 348.61,250.04 360.04,299.2 376.16,313.58 396.46,338.04 412.57,353.7 424,366.33"/></g>
<polygon points="321.07,262.01 324.21,264.29 323.01,267.98 319.13,267.98 317.93,264.29" fill="#000000"/>
<polygon points="332.5,252.97 335.64,255.25 334.44,258.94 330.56,258.94 329.36,255.25" fill="#000000"/>
<polygon points="348.61,246.94 351.75,249.22 350.55,252.91 346.67,252.91 345.47,249.22" fill="#000000"/>
<polygon points="360.04,296.1 363.18,298.38 361.98,302.07 358.1,302.07 356.91,298.38" fill="#000000"/>
<polygon points="376.16,310.48 379.3,312.76 378.1,316.45 374.22,316.45 373.02,312.76" fill="#000000"/>
<polygon points="396.46,334.94 399.59,337.22 398.4,340.91 394.52,340.91 393.32,337.22" fill="#000000"/>
<polygon points="412.57,350.6 415.71,352.88 414.51,356.57 410.63,356.57 409.43,352.88" fill="#000000"/>
<polygon points="424,363.23 427.14,365.51 425.94,369.2 422.06,369.2 420.86,365.51" fill="#000000"/>
<g clip-path="url(#c5)"><polyline fill="none" stroke="#E51E10" stroke-width="0.85" stroke-linejoin="round" points="241,149.74 257.11,149.74 268.54,149.74 284.66,172.93 304.96,200.76 321.07,265.11 332.5,270.33 348.61,278.79 360.04,303.72 376.16,313.58 396.46,338.04 412.57,353.7 424,366.33"/></g>
<circle cx="321.07" cy="265.11" r="3.25" fill="#E51E10"/>
<circle cx="332.5" cy="270.33" r="3.25" fill="#E51E10"/>
<circle cx="348.61" cy="278.79" r="3.25" fill="#E51E10"/>
<circle cx="360.04" cy="303.72" r="3.25" fill="#E51E10"/>
<circle cx="376.16" cy="313.58" r="3.25" fill="#E51E10"/>
<circle cx="396.46" cy="338.04" r="3.25" fill="#E51E10"/>
<circle cx="412.57" cy="353.7" r="3.25" fill="#E51E10"/>
<circle cx="424" cy="366.33" r="3.25" fill="#E51E10"/>
<path d="M241.05,244.65h3.3M424,244.65h-3.3M241.05,249.39h3.3M424,249.39h-3.3M241.05,258.64h3.3M424,258.64h-3.3M241.05,265.63h6.4M424,265.63h-6.4M241.05,267.88h3.3M424,267.88h-3.3M241.05,272.63h3.3M424,272.63h-3.3M241.05,281.87h3.3M424,281.87h-3.3M241.05,288.87h6.4M424,288.87h-6.4M241.05,291.12h3.3M424,291.12h-3.3M241.05,295.86h3.3M424,295.86h-3.3M241.05,305.11h3.3M424,305.11h-3.3M241.05,312.1h6.4M424,312.1h-6.4M241.05,314.35h3.3M424,314.35h-3.3M241.05,319.09h3.3M424,319.09h-3.3M241.05,328.34h3.3M424,328.34h-3.3M241.05,335.33h6.4M424,335.33h-6.4M241.05,337.58h3.3M424,337.58h-3.3M241.05,342.33h3.3M424,342.33h-3.3M241.05,351.57h3.3M424,351.57h-3.3M241.05,358.57h6.4M424,358.57h-6.4M241.05,360.82h3.3M424,360.82h-3.3M241.05,365.56h3.3M424,365.56h-3.3M241.05,374.81h3.3M424,374.81h-3.3M241.05,381.8h6.4M424,381.8h-6.4M241.05,384.05h3.3M424,384.05h-3.3M241.05,388.79h3.3M424,388.79h-3.3M241.05,398.04h3.3M424,398.04h-3.3M241.05,405.03h6.4M424,405.03h-6.4M241.05,407.28h3.3M424,407.28h-3.3M241.05,412.03h3.3M424,412.03h-3.3M241.05,421.27h3.3M424,421.27h-3.3M241.05,428.27h6.4M424,428.27h-6.4M241.05,430.52h3.3M424,430.52h-3.3M241.05,435.26h3.3M424,435.26h-3.3M241.05,444.51h3.3M424,444.51h-3.3M268.59,451.5v-3.3M268.59,242.4v3.3M284.69,451.5v-3.3M284.69,242.4v3.3M296.12,451.5v-3.3M296.12,242.4v3.3M304.99,451.5v-3.3M304.99,242.4v3.3M312.23,451.5v-3.3M312.23,242.4v3.3M318.36,451.5v-3.3M318.36,242.4v3.3M323.66,451.5v-3.3M323.66,242.4v3.3M328.34,451.5v-3.3M328.34,242.4v3.3M332.52,451.5v-6.4M332.52,242.4v6.4M360.06,451.5v-3.3M360.06,242.4v3.3M376.17,451.5v-3.3M376.17,242.4v3.3M387.6,451.5v-3.3M387.6,242.4v3.3M396.46,451.5v-3.3M396.46,242.4v3.3M403.71,451.5v-3.3M403.71,242.4v3.3M409.83,451.5v-3.3M409.83,242.4v3.3M415.14,451.5v-3.3M415.14,242.4v3.3M419.81,451.5v-3.3M419.81,242.4v3.3" stroke="#000" stroke-width="0.6" fill="none"/>
<rect x="241.05" y="242.4" width="182.95" height="209.1" fill="none" stroke="#000" stroke-width="1.4"/>
<text transform="translate(240.75,470.3) scale(1,1.02)" font-size="10" text-anchor="middle" class="t">1</text>
<text transform="translate(332.22,470.3) scale(1,1.02)" font-size="10" text-anchor="middle" class="t">10</text>
<text transform="translate(423.7,470.3) scale(1,1.02)" font-size="10" text-anchor="middle" class="t">100</text>
<text x="332.52" y="482.5" font-size="11.85" text-anchor="middle" class="t">points-per-decade</text>
<text transform="translate(515.4,267.6) scale(1,1.09)" font-size="15" class="t">Stokes U</text>
<g clip-path="url(#c6)"><polyline fill="none" stroke="#9400D3" stroke-width="0.85" stroke-linejoin="round" points="440.5,267.55 456.61,272.88 468.04,269.4 484.16,277.05 504.46,284.01 520.57,290.39 532,295.49 548.11,303.26 559.54,308.48 575.66,316.94 595.96,327.26 612.07,335.61 623.5,341.17"/></g>
<rect x="437.45" y="264.5" width="6.1" height="6.1" fill="#9400D3"/>
<rect x="453.56" y="269.83" width="6.1" height="6.1" fill="#9400D3"/>
<rect x="464.99" y="266.35" width="6.1" height="6.1" fill="#9400D3"/>
<rect x="481.11" y="274" width="6.1" height="6.1" fill="#9400D3"/>
<rect x="501.41" y="280.96" width="6.1" height="6.1" fill="#9400D3"/>
<rect x="517.52" y="287.34" width="6.1" height="6.1" fill="#9400D3"/>
<rect x="528.95" y="292.44" width="6.1" height="6.1" fill="#9400D3"/>
<rect x="545.06" y="300.21" width="6.1" height="6.1" fill="#9400D3"/>
<rect x="556.49" y="305.43" width="6.1" height="6.1" fill="#9400D3"/>
<rect x="572.61" y="313.89" width="6.1" height="6.1" fill="#9400D3"/>
<rect x="592.91" y="324.21" width="6.1" height="6.1" fill="#9400D3"/>
<rect x="609.02" y="332.56" width="6.1" height="6.1" fill="#9400D3"/>
<rect x="620.45" y="338.12" width="6.1" height="6.1" fill="#9400D3"/>
<g clip-path="url(#c6)"><polyline fill="none" stroke="#009E73" stroke-width="0.85" stroke-linejoin="round" points="440.5,267.55 456.61,271.02 468.04,269.05 484.16,276.59 504.46,282.5 520.57,288.88 532,293.98 548.11,301.75 559.54,306.97 575.66,315.43 595.96,325.75 612.07,333.98 623.5,339.67"/></g>
<circle cx="440.5" cy="267.55" r="3.25" fill="#009E73"/>
<circle cx="456.61" cy="271.02" r="3.25" fill="#009E73"/>
<circle cx="468.04" cy="269.05" r="3.25" fill="#009E73"/>
<circle cx="484.16" cy="276.59" r="3.25" fill="#009E73"/>
<circle cx="504.46" cy="282.5" r="3.25" fill="#009E73"/>
<circle cx="520.57" cy="288.88" r="3.25" fill="#009E73"/>
<circle cx="532" cy="293.98" r="3.25" fill="#009E73"/>
<circle cx="548.11" cy="301.75" r="3.25" fill="#009E73"/>
<circle cx="559.54" cy="306.97" r="3.25" fill="#009E73"/>
<circle cx="575.66" cy="315.43" r="3.25" fill="#009E73"/>
<circle cx="595.96" cy="325.75" r="3.25" fill="#009E73"/>
<circle cx="612.07" cy="333.98" r="3.25" fill="#009E73"/>
<circle cx="623.5" cy="339.67" r="3.25" fill="#009E73"/>
<g clip-path="url(#c6)"><polyline fill="none" stroke="#56B4E9" stroke-width="0.85" stroke-linejoin="round" points="440.5,267.55 456.61,269.63 468.04,272.65 484.16,287.72 504.46,291.66 520.57,306.97 532,308.13 548.11,318.56 559.54,324.48 575.66,332.48 595.96,343.61 612.07,350.33 623.5,356.13"/></g>
<polygon points="440.5,264.45 443.64,266.73 442.44,270.41 438.56,270.41 437.36,266.73" fill="#56B4E9"/>
<polygon points="456.61,266.53 459.75,268.81 458.55,272.5 454.67,272.5 453.47,268.81" fill="#56B4E9"/>
<polygon points="468.04,269.55 471.18,271.83 469.98,275.52 466.1,275.52 464.91,271.83" fill="#56B4E9"/>
<polygon points="484.16,284.62 487.3,286.9 486.1,290.59 482.22,290.59 481.02,286.9" fill="#56B4E9"/>
<polygon points="504.46,288.56 507.59,290.84 506.4,294.53 502.52,294.53 501.32,290.84" fill="#56B4E9"/>
<polygon points="520.57,303.87 523.71,306.15 522.51,309.84 518.63,309.84 517.43,306.15" fill="#56B4E9"/>
<polygon points="532,305.03 535.14,307.31 533.94,311 530.06,311 528.86,307.31" fill="#56B4E9"/>
<polygon points="548.11,315.46 551.25,317.74 550.05,321.43 546.17,321.43 544.97,317.74" fill="#56B4E9"/>
<polygon points="559.54,321.38 562.68,323.66 561.48,327.35 557.6,327.35 556.41,323.66" fill="#56B4E9"/>
<polygon points="575.66,329.38 578.8,331.66 577.6,335.35 573.72,335.35 572.52,331.66" fill="#56B4E9"/>
<polygon points="595.96,340.51 599.09,342.79 597.9,346.48 594.02,346.48 592.82,342.79" fill="#56B4E9"/>
<polygon points="612.07,347.23 615.21,349.51 614.01,353.2 610.13,353.2 608.93,349.51" fill="#56B4E9"/>
<polygon points="623.5,353.03 626.64,355.31 625.44,359 621.56,359 620.36,355.31" fill="#56B4E9"/>
<g clip-path="url(#c6)"><polyline fill="none" stroke="#E69F00" stroke-width="0.85" stroke-linejoin="round" points="440.5,267.55 456.61,260.7 468.04,266.39 484.16,251.08 504.46,268.36 520.57,280.3 532,279.14 548.11,245.51 559.54,196.12 575.66,196.12 595.96,196.12 612.07,196.12 623.5,196.12"/></g>
<polygon points="440.5,263.81 444.1,269.41 436.9,269.41" fill="#E69F00"/>
<polygon points="456.61,256.97 460.21,262.57 453.01,262.57" fill="#E69F00"/>
<polygon points="468.04,262.65 471.64,268.25 464.44,268.25" fill="#E69F00"/>
<polygon points="484.16,247.35 487.76,252.95 480.56,252.95" fill="#E69F00"/>
<polygon points="504.46,264.62 508.06,270.22 500.86,270.22" fill="#E69F00"/>
<polygon points="520.57,276.57 524.17,282.17 516.97,282.17" fill="#E69F00"/>
<polygon points="532,275.41 535.6,281.01 528.4,281.01" fill="#E69F00"/>
<polygon points="548.11,241.78 551.71,247.38 544.51,247.38" fill="#E69F00"/>
<g clip-path="url(#c6)"><polyline fill="none" stroke="#F0E442" stroke-width="0.85" stroke-linejoin="round" points="440.5,267.55 456.61,260.7 468.04,266.39 484.16,251.08 504.46,230.44 520.57,196.12 532,196.12 548.11,196.12 559.54,196.12 575.66,196.12 595.96,196.12 612.07,196.12 623.5,196.12"/></g>
<polygon points="440.5,271.28 444.1,265.68 436.9,265.68" fill="#F0E442"/>
<polygon points="456.61,264.44 460.21,258.84 453.01,258.84" fill="#F0E442"/>
<polygon points="468.04,270.12 471.64,264.52 464.44,264.52" fill="#F0E442"/>
<polygon points="484.16,254.81 487.76,249.21 480.56,249.21" fill="#F0E442"/>
<g clip-path="url(#c6)"><polyline fill="none" stroke="#0072B2" stroke-width="0.85" stroke-linejoin="round" points="440.5,263.83 456.61,271.14 468.04,273.57 484.16,287.37 504.46,290.97 520.57,306.04 532,310.91 548.11,317.75 559.54,323.2 575.66,329.93 595.96,342.22 612.07,355.9 623.5,364.6"/></g>
<polygon points="440.5,260.33 443.75,263.83 440.5,267.33 437.25,263.83" fill="#0072B2"/>
<polygon points="456.61,267.64 459.86,271.14 456.61,274.64 453.36,271.14" fill="#0072B2"/>
<polygon points="468.04,270.07 471.29,273.57 468.04,277.07 464.79,273.57" fill="#0072B2"/>
<polygon points="484.16,283.87 487.41,287.37 484.16,290.87 480.91,287.37" fill="#0072B2"/>
<polygon points="504.46,287.47 507.71,290.97 504.46,294.47 501.21,290.97" fill="#0072B2"/>
<polygon points="520.57,302.54 523.82,306.04 520.57,309.54 517.32,306.04" fill="#0072B2"/>
<polygon points="532,307.41 535.25,310.91 532,314.41 528.75,310.91" fill="#0072B2"/>
<polygon points="548.11,314.25 551.36,317.75 548.11,321.25 544.86,317.75" fill="#0072B2"/>
<polygon points="559.54,319.7 562.79,323.2 559.54,326.7 556.29,323.2" fill="#0072B2"/>
<polygon points="575.66,326.43 578.91,329.93 575.66,333.43 572.41,329.93" fill="#0072B2"/>
<polygon points="595.96,338.72 599.21,342.22 595.96,345.72 592.71,342.22" fill="#0072B2"/>
<polygon points="612.07,352.4 615.32,355.9 612.07,359.4 608.82,355.9" fill="#0072B2"/>
<polygon points="623.5,361.1 626.75,364.6 623.5,368.1 620.25,364.6" fill="#0072B2"/>
<g clip-path="url(#c6)"><polyline fill="none" stroke="#000000" stroke-width="0.85" stroke-linejoin="round" points="440.5,149.74 456.61,149.74 468.04,149.74 484.16,172.93 504.46,211.19 520.57,269.86 532,272.88 548.11,256.99 559.54,319.03 575.66,328.3 595.96,350.8 612.07,365.29 623.5,380.25"/></g>
<polygon points="520.57,266.76 523.71,269.04 522.51,272.73 518.63,272.73 517.43,269.04" fill="#000000"/>
<polygon points="532,269.78 535.14,272.06 533.94,275.75 530.06,275.75 528.86,272.06" fill="#000000"/>
<polygon points="548.11,253.89 551.25,256.17 550.05,259.86 546.17,259.86 544.97,256.17" fill="#000000"/>
<polygon points="559.54,315.93 562.68,318.21 561.48,321.9 557.6,321.9 556.41,318.21" fill="#000000"/>
<polygon points="575.66,325.2 578.8,327.48 577.6,331.17 573.72,331.17 572.52,327.48" fill="#000000"/>
<polygon points="595.96,347.7 599.09,349.98 597.9,353.67 594.02,353.67 592.82,349.98" fill="#000000"/>
<polygon points="612.07,362.19 615.21,364.47 614.01,368.16 610.13,368.16 608.93,364.47" fill="#000000"/>
<polygon points="623.5,377.15 626.64,379.43 625.44,383.12 621.56,383.12 620.36,379.43" fill="#000000"/>
<g clip-path="url(#c6)"><polyline fill="none" stroke="#E51E10" stroke-width="0.85" stroke-linejoin="round" points="440.5,149.74 456.61,149.74 468.04,149.74 484.16,172.93 504.46,224.64 520.57,266.85 532,286.33 548.11,294.21 559.54,319.03 575.66,328.3 595.96,350.8 612.07,365.29 623.5,380.25"/></g>
<circle cx="520.57" cy="266.85" r="3.25" fill="#E51E10"/>
<circle cx="532" cy="286.33" r="3.25" fill="#E51E10"/>
<circle cx="548.11" cy="294.21" r="3.25" fill="#E51E10"/>
<circle cx="559.54" cy="319.03" r="3.25" fill="#E51E10"/>
<circle cx="575.66" cy="328.3" r="3.25" fill="#E51E10"/>
<circle cx="595.96" cy="350.8" r="3.25" fill="#E51E10"/>
<circle cx="612.07" cy="365.29" r="3.25" fill="#E51E10"/>
<circle cx="623.5" cy="380.25" r="3.25" fill="#E51E10"/>
<path d="M440.5,244.65h3.3M623.45,244.65h-3.3M440.5,249.39h3.3M623.45,249.39h-3.3M440.5,258.64h3.3M623.45,258.64h-3.3M440.5,265.63h6.4M623.45,265.63h-6.4M440.5,267.88h3.3M623.45,267.88h-3.3M440.5,272.63h3.3M623.45,272.63h-3.3M440.5,281.87h3.3M623.45,281.87h-3.3M440.5,288.87h6.4M623.45,288.87h-6.4M440.5,291.12h3.3M623.45,291.12h-3.3M440.5,295.86h3.3M623.45,295.86h-3.3M440.5,305.11h3.3M623.45,305.11h-3.3M440.5,312.1h6.4M623.45,312.1h-6.4M440.5,314.35h3.3M623.45,314.35h-3.3M440.5,319.09h3.3M623.45,319.09h-3.3M440.5,328.34h3.3M623.45,328.34h-3.3M440.5,335.33h6.4M623.45,335.33h-6.4M440.5,337.58h3.3M623.45,337.58h-3.3M440.5,342.33h3.3M623.45,342.33h-3.3M440.5,351.57h3.3M623.45,351.57h-3.3M440.5,358.57h6.4M623.45,358.57h-6.4M440.5,360.82h3.3M623.45,360.82h-3.3M440.5,365.56h3.3M623.45,365.56h-3.3M440.5,374.81h3.3M623.45,374.81h-3.3M440.5,381.8h6.4M623.45,381.8h-6.4M440.5,384.05h3.3M623.45,384.05h-3.3M440.5,388.79h3.3M623.45,388.79h-3.3M440.5,398.04h3.3M623.45,398.04h-3.3M440.5,405.03h6.4M623.45,405.03h-6.4M440.5,407.28h3.3M623.45,407.28h-3.3M440.5,412.03h3.3M623.45,412.03h-3.3M440.5,421.27h3.3M623.45,421.27h-3.3M440.5,428.27h6.4M623.45,428.27h-6.4M440.5,430.52h3.3M623.45,430.52h-3.3M440.5,435.26h3.3M623.45,435.26h-3.3M440.5,444.51h3.3M623.45,444.51h-3.3M468.04,451.5v-3.3M468.04,242.4v3.3M484.14,451.5v-3.3M484.14,242.4v3.3M495.57,451.5v-3.3M495.57,242.4v3.3M504.44,451.5v-3.3M504.44,242.4v3.3M511.68,451.5v-3.3M511.68,242.4v3.3M517.81,451.5v-3.3M517.81,242.4v3.3M523.11,451.5v-3.3M523.11,242.4v3.3M527.79,451.5v-3.3M527.79,242.4v3.3M531.98,451.5v-6.4M531.98,242.4v6.4M559.51,451.5v-3.3M559.51,242.4v3.3M575.62,451.5v-3.3M575.62,242.4v3.3M587.05,451.5v-3.3M587.05,242.4v3.3M595.91,451.5v-3.3M595.91,242.4v3.3M603.16,451.5v-3.3M603.16,242.4v3.3M609.28,451.5v-3.3M609.28,242.4v3.3M614.59,451.5v-3.3M614.59,242.4v3.3M619.26,451.5v-3.3M619.26,242.4v3.3" stroke="#000" stroke-width="0.6" fill="none"/>
<rect x="440.5" y="242.4" width="182.95" height="209.1" fill="none" stroke="#000" stroke-width="1.4"/>
<text transform="translate(440.2,470.3) scale(1,1.02)" font-size="10" text-anchor="middle" class="t">1</text>
<text transform="translate(531.68,470.3) scale(1,1.02)" font-size="10" text-anchor="middle" class="t">10</text>
<text transform="translate(623.15,470.3) scale(1,1.02)" font-size="10" text-anchor="middle" class="t">100</text>
<text x="531.98" y="482.5" font-size="11.85" text-anchor="middle" class="t">points-per-decade</text>
<text transform="translate(714.9,267.6) scale(1,1.09)" font-size="15" class="t">Stokes V</text>
<g clip-path="url(#c7)"><polyline fill="none" stroke="#9400D3" stroke-width="0.85" stroke-linejoin="round" points="640,276.36 656.11,277.17 667.54,278.44 683.66,286.79 703.96,292.36 720.07,300.48 731.5,306.62 747.61,312.07 759.04,315.55 775.16,322.74 795.46,330.85 811.57,338.39 823,344.77"/></g>
<rect x="636.95" y="273.31" width="6.1" height="6.1" fill="#9400D3"/>
<rect x="653.06" y="274.12" width="6.1" height="6.1" fill="#9400D3"/>
<rect x="664.49" y="275.39" width="6.1" height="6.1" fill="#9400D3"/>
<rect x="680.61" y="283.74" width="6.1" height="6.1" fill="#9400D3"/>
<rect x="700.91" y="289.31" width="6.1" height="6.1" fill="#9400D3"/>
<rect x="717.02" y="297.43" width="6.1" height="6.1" fill="#9400D3"/>
<rect x="728.45" y="303.57" width="6.1" height="6.1" fill="#9400D3"/>
<rect x="744.56" y="309.02" width="6.1" height="6.1" fill="#9400D3"/>
<rect x="755.99" y="312.5" width="6.1" height="6.1" fill="#9400D3"/>
<rect x="772.11" y="319.69" width="6.1" height="6.1" fill="#9400D3"/>
<rect x="792.41" y="327.8" width="6.1" height="6.1" fill="#9400D3"/>
<rect x="808.52" y="335.34" width="6.1" height="6.1" fill="#9400D3"/>
<rect x="819.95" y="341.72" width="6.1" height="6.1" fill="#9400D3"/>
<g clip-path="url(#c7)"><polyline fill="none" stroke="#009E73" stroke-width="0.85" stroke-linejoin="round" points="640,277.29 656.11,277.75 667.54,279.6 683.66,286.79 703.96,290.74 720.07,298.5 731.5,305.58 747.61,313.23 759.04,318.1 775.16,325.98 795.46,336.07 811.57,344.42 823,349.87"/></g>
<circle cx="640" cy="277.29" r="3.25" fill="#009E73"/>
<circle cx="656.11" cy="277.75" r="3.25" fill="#009E73"/>
<circle cx="667.54" cy="279.6" r="3.25" fill="#009E73"/>
<circle cx="683.66" cy="286.79" r="3.25" fill="#009E73"/>
<circle cx="703.96" cy="290.74" r="3.25" fill="#009E73"/>
<circle cx="720.07" cy="298.5" r="3.25" fill="#009E73"/>
<circle cx="731.5" cy="305.58" r="3.25" fill="#009E73"/>
<circle cx="747.61" cy="313.23" r="3.25" fill="#009E73"/>
<circle cx="759.04" cy="318.1" r="3.25" fill="#009E73"/>
<circle cx="775.16" cy="325.98" r="3.25" fill="#009E73"/>
<circle cx="795.46" cy="336.07" r="3.25" fill="#009E73"/>
<circle cx="811.57" cy="344.42" r="3.25" fill="#009E73"/>
<circle cx="823" cy="349.87" r="3.25" fill="#009E73"/>
<g clip-path="url(#c7)"><polyline fill="none" stroke="#56B4E9" stroke-width="0.85" stroke-linejoin="round" points="640,276.36 656.11,277.29 667.54,279.14 683.66,288.88 703.96,298.85 720.07,303.95 731.5,307.43 747.61,312.53 759.04,316.01 775.16,322.51 795.46,332.48 811.57,339.67 823,349.87"/></g>
<polygon points="640,273.26 643.14,275.54 641.94,279.23 638.06,279.23 636.86,275.54" fill="#56B4E9"/>
<polygon points="656.11,274.19 659.25,276.47 658.05,280.15 654.17,280.15 652.97,276.47" fill="#56B4E9"/>
<polygon points="667.54,276.04 670.68,278.32 669.48,282.01 665.6,282.01 664.41,278.32" fill="#56B4E9"/>
<polygon points="683.66,285.78 686.8,288.06 685.6,291.75 681.72,291.75 680.52,288.06" fill="#56B4E9"/>
<polygon points="703.96,295.75 707.09,298.03 705.9,301.72 702.02,301.72 700.82,298.03" fill="#56B4E9"/>
<polygon points="720.07,300.85 723.21,303.13 722.01,306.82 718.13,306.82 716.93,303.13" fill="#56B4E9"/>
<polygon points="731.5,304.33 734.64,306.61 733.44,310.3 729.56,310.3 728.36,306.61" fill="#56B4E9"/>
<polygon points="747.61,309.43 750.75,311.71 749.55,315.4 745.67,315.4 744.47,311.71" fill="#56B4E9"/>
<polygon points="759.04,312.91 762.18,315.19 760.98,318.88 757.1,318.88 755.91,315.19" fill="#56B4E9"/>
<polygon points="775.16,319.41 778.3,321.69 777.1,325.38 773.22,325.38 772.02,321.69" fill="#56B4E9"/>
<polygon points="795.46,329.38 798.59,331.66 797.4,335.35 793.52,335.35 792.32,331.66" fill="#56B4E9"/>
<polygon points="811.57,336.57 814.71,338.85 813.51,342.54 809.63,342.54 808.43,338.85" fill="#56B4E9"/>
<polygon points="823,346.77 826.14,349.05 824.94,352.74 821.06,352.74 819.86,349.05" fill="#56B4E9"/>
<g clip-path="url(#c7)"><polyline fill="none" stroke="#E69F00" stroke-width="0.85" stroke-linejoin="round" points="640,278.44 656.11,277.29 667.54,279.6 683.66,259.43 703.96,269.05 720.07,286.79 731.5,303.03 747.61,312.07 759.04,299.66 775.16,275.89 795.46,59.3 811.57,56.98 823,56.98"/></g>
<polygon points="640,274.71 643.6,280.31 636.4,280.31" fill="#E69F00"/>
<polygon points="656.11,273.55 659.71,279.15 652.51,279.15" fill="#E69F00"/>
<polygon points="667.54,275.87 671.14,281.47 663.94,281.47" fill="#E69F00"/>
<polygon points="683.66,255.7 687.26,261.3 680.06,261.3" fill="#E69F00"/>
<polygon points="703.96,265.32 707.56,270.92 700.36,270.92" fill="#E69F00"/>
<polygon points="720.07,283.06 723.67,288.66 716.47,288.66" fill="#E69F00"/>
<polygon points="731.5,299.29 735.1,304.89 727.9,304.89" fill="#E69F00"/>
<polygon points="747.61,308.34 751.21,313.94 744.01,313.94" fill="#E69F00"/>
<polygon points="759.04,295.93 762.64,301.53 755.44,301.53" fill="#E69F00"/>
<polygon points="775.16,272.16 778.76,277.76 771.56,277.76" fill="#E69F00"/>
<g clip-path="url(#c7)"><polyline fill="none" stroke="#F0E442" stroke-width="0.85" stroke-linejoin="round" points="640,278.44 656.11,277.75 667.54,279.6 683.66,259.43 703.96,264.53 720.07,197.74 731.5,196.12 747.61,196.12 759.04,196.12 775.16,196.12 795.46,196.12 811.57,196.12 823,196.12"/></g>
<polygon points="640,282.18 643.6,276.58 636.4,276.58" fill="#F0E442"/>
<polygon points="656.11,281.48 659.71,275.88 652.51,275.88" fill="#F0E442"/>
<polygon points="667.54,283.34 671.14,277.74 663.94,277.74" fill="#F0E442"/>
<polygon points="683.66,263.16 687.26,257.56 680.06,257.56" fill="#F0E442"/>
<polygon points="703.96,268.26 707.56,262.66 700.36,262.66" fill="#F0E442"/>
<g clip-path="url(#c7)"><polyline fill="none" stroke="#0072B2" stroke-width="0.85" stroke-linejoin="round" points="640,247.02 656.11,277.17 667.54,276.82 683.66,289.81 703.96,296.42 720.07,302.56 731.5,306.62 747.61,312.07 759.04,315.55 775.16,322.51 795.46,332.48 811.57,361.7 823,373.29"/></g>
<polygon points="640,243.52 643.25,247.02 640,250.52 636.75,247.02" fill="#0072B2"/>
<polygon points="656.11,273.67 659.36,277.17 656.11,280.67 652.86,277.17" fill="#0072B2"/>
<polygon points="667.54,273.32 670.79,276.82 667.54,280.32 664.29,276.82" fill="#0072B2"/>
<polygon points="683.66,286.31 686.91,289.81 683.66,293.31 680.41,289.81" fill="#0072B2"/>
<polygon points="703.96,292.92 707.21,296.42 703.96,299.92 700.71,296.42" fill="#0072B2"/>
<polygon points="720.07,299.06 723.32,302.56 720.07,306.06 716.82,302.56" fill="#0072B2"/>
<polygon points="731.5,303.12 734.75,306.62 731.5,310.12 728.25,306.62" fill="#0072B2"/>
<polygon points="747.61,308.57 750.86,312.07 747.61,315.57 744.36,312.07" fill="#0072B2"/>
<polygon points="759.04,312.05 762.29,315.55 759.04,319.05 755.79,315.55" fill="#0072B2"/>
<polygon points="775.16,319.01 778.41,322.51 775.16,326.01 771.91,322.51" fill="#0072B2"/>
<polygon points="795.46,328.98 798.71,332.48 795.46,335.98 792.21,332.48" fill="#0072B2"/>
<polygon points="811.57,358.2 814.82,361.7 811.57,365.2 808.32,361.7" fill="#0072B2"/>
<polygon points="823,369.79 826.25,373.29 823,376.79 819.75,373.29" fill="#0072B2"/>
<g clip-path="url(#c7)"><polyline fill="none" stroke="#000000" stroke-width="0.85" stroke-linejoin="round" points="640,149.74 656.11,149.74 667.54,149.74 683.66,172.93 703.96,215.6 720.07,271.95 731.5,260.59 747.61,254.56 759.04,307.43 775.16,321.11 795.46,348.94 811.57,364.83 823,377.35"/></g>
<polygon points="720.07,268.85 723.21,271.13 722.01,274.82 718.13,274.82 716.93,271.13" fill="#000000"/>
<polygon points="731.5,257.49 734.64,259.77 733.44,263.46 729.56,263.46 728.36,259.77" fill="#000000"/>
<polygon points="747.61,251.46 750.75,253.74 749.55,257.43 745.67,257.43 744.47,253.74" fill="#000000"/>
<polygon points="759.04,304.33 762.18,306.61 760.98,310.3 757.1,310.3 755.91,306.61" fill="#000000"/>
<polygon points="775.16,318.01 778.3,320.29 777.1,323.98 773.22,323.98 772.02,320.29" fill="#000000"/>
<polygon points="795.46,345.84 798.59,348.12 797.4,351.81 793.52,351.81 792.32,348.12" fill="#000000"/>
<polygon points="811.57,361.73 814.71,364.01 813.51,367.7 809.63,367.7 808.43,364.01" fill="#000000"/>
<polygon points="823,374.25 826.14,376.53 824.94,380.22 821.06,380.22 819.86,376.53" fill="#000000"/>
<g clip-path="url(#c7)"><polyline fill="none" stroke="#E51E10" stroke-width="0.85" stroke-linejoin="round" points="640,149.74 656.11,149.74 667.54,149.74 683.66,172.93 703.96,225.57 720.07,266.27 731.5,270.68 747.61,284.71 759.04,309.29 775.16,321.11 795.46,348.94 811.57,368.07 823,382.8"/></g>
<circle cx="720.07" cy="266.27" r="3.25" fill="#E51E10"/>
<circle cx="731.5" cy="270.68" r="3.25" fill="#E51E10"/>
<circle cx="747.61" cy="284.71" r="3.25" fill="#E51E10"/>
<circle cx="759.04" cy="309.29" r="3.25" fill="#E51E10"/>
<circle cx="775.16" cy="321.11" r="3.25" fill="#E51E10"/>
<circle cx="795.46" cy="348.94" r="3.25" fill="#E51E10"/>
<circle cx="811.57" cy="368.07" r="3.25" fill="#E51E10"/>
<circle cx="823" cy="382.8" r="3.25" fill="#E51E10"/>
<path d="M640,244.65h3.3M822.95,244.65h-3.3M640,249.39h3.3M822.95,249.39h-3.3M640,258.64h3.3M822.95,258.64h-3.3M640,265.63h6.4M822.95,265.63h-6.4M640,267.88h3.3M822.95,267.88h-3.3M640,272.63h3.3M822.95,272.63h-3.3M640,281.87h3.3M822.95,281.87h-3.3M640,288.87h6.4M822.95,288.87h-6.4M640,291.12h3.3M822.95,291.12h-3.3M640,295.86h3.3M822.95,295.86h-3.3M640,305.11h3.3M822.95,305.11h-3.3M640,312.1h6.4M822.95,312.1h-6.4M640,314.35h3.3M822.95,314.35h-3.3M640,319.09h3.3M822.95,319.09h-3.3M640,328.34h3.3M822.95,328.34h-3.3M640,335.33h6.4M822.95,335.33h-6.4M640,337.58h3.3M822.95,337.58h-3.3M640,342.33h3.3M822.95,342.33h-3.3M640,351.57h3.3M822.95,351.57h-3.3M640,358.57h6.4M822.95,358.57h-6.4M640,360.82h3.3M822.95,360.82h-3.3M640,365.56h3.3M822.95,365.56h-3.3M640,374.81h3.3M822.95,374.81h-3.3M640,381.8h6.4M822.95,381.8h-6.4M640,384.05h3.3M822.95,384.05h-3.3M640,388.79h3.3M822.95,388.79h-3.3M640,398.04h3.3M822.95,398.04h-3.3M640,405.03h6.4M822.95,405.03h-6.4M640,407.28h3.3M822.95,407.28h-3.3M640,412.03h3.3M822.95,412.03h-3.3M640,421.27h3.3M822.95,421.27h-3.3M640,428.27h6.4M822.95,428.27h-6.4M640,430.52h3.3M822.95,430.52h-3.3M640,435.26h3.3M822.95,435.26h-3.3M640,444.51h3.3M822.95,444.51h-3.3M667.54,451.5v-3.3M667.54,242.4v3.3M683.64,451.5v-3.3M683.64,242.4v3.3M695.07,451.5v-3.3M695.07,242.4v3.3M703.94,451.5v-3.3M703.94,242.4v3.3M711.18,451.5v-3.3M711.18,242.4v3.3M717.31,451.5v-3.3M717.31,242.4v3.3M722.61,451.5v-3.3M722.61,242.4v3.3M727.29,451.5v-3.3M727.29,242.4v3.3M731.48,451.5v-6.4M731.48,242.4v6.4M759.01,451.5v-3.3M759.01,242.4v3.3M775.12,451.5v-3.3M775.12,242.4v3.3M786.55,451.5v-3.3M786.55,242.4v3.3M795.41,451.5v-3.3M795.41,242.4v3.3M802.66,451.5v-3.3M802.66,242.4v3.3M808.78,451.5v-3.3M808.78,242.4v3.3M814.09,451.5v-3.3M814.09,242.4v3.3M818.76,451.5v-3.3M818.76,242.4v3.3" stroke="#000" stroke-width="0.6" fill="none"/>
<rect x="640" y="242.4" width="182.95" height="209.1" fill="none" stroke="#000" stroke-width="1.4"/>
<text transform="translate(639.7,470.3) scale(1,1.02)" font-size="10" text-anchor="middle" class="t">1</text>
<text transform="translate(731.18,470.3) scale(1,1.02)" font-size="10" text-anchor="middle" class="t">10</text>
<text transform="translate(822.65,470.3) scale(1,1.02)" font-size="10" text-anchor="middle" class="t">100</text>
<text x="731.48" y="482.5" font-size="11.85" text-anchor="middle" class="t">points-per-decade</text>
<text x="725" y="382.5" font-size="9" text-anchor="end" class="t">DELO-linear</text>
<path d="M730.2,379.3h11.6" stroke="#9400D3" stroke-width="0.85"/>
<rect x="732.95" y="376.25" width="6.1" height="6.1" fill="#9400D3"/>
<text x="725" y="391.5" font-size="9" text-anchor="end" class="t">trapezoidal</text>
<path d="M730.2,388.3h11.6" stroke="#009E73" stroke-width="0.85"/>
<circle cx="736" cy="388.3" r="3.25" fill="#009E73"/>
<text x="725" y="400.5" font-size="9" text-anchor="end" class="t">pragmatic 2</text>
<path d="M730.2,397.3h11.6" stroke="#56B4E9" stroke-width="0.85"/>
<polygon points="736,394.2 739.14,396.48 737.94,400.17 734.06,400.17 732.86,396.48" fill="#56B4E9"/>
<text x="725" y="409.5" font-size="9" text-anchor="end" class="t">DELO-parabolic</text>
<path d="M730.2,406.3h11.6" stroke="#E69F00" stroke-width="0.85"/>
<polygon points="736,402.57 739.6,408.17 732.4,408.17" fill="#E69F00"/>
<text x="725" y="418.5" font-size="9" text-anchor="end" class="t">Adams-Moulton 3</text>
<path d="M730.2,415.3h11.6" stroke="#F0E442" stroke-width="0.85"/>
<polygon points="736,419.03 739.6,413.43 732.4,413.43" fill="#F0E442"/>
<text x="725" y="427.5" font-size="9" text-anchor="end" class="t">pragmatic 3</text>
<path d="M730.2,424.3h11.6" stroke="#0072B2" stroke-width="0.85"/>
<polygon points="736,420.8 739.25,424.3 736,427.8 732.75,424.3" fill="#0072B2"/>
<text x="725" y="436.5" font-size="9" text-anchor="end" class="t">cubic DELO-Bezier</text>
<path d="M730.2,433.3h11.6" stroke="#000000" stroke-width="0.85"/>
<polygon points="736,430.2 739.14,432.48 737.94,436.17 734.06,436.17 732.86,432.48" fill="#000000"/>
<text x="725" y="445.5" font-size="9" text-anchor="end" class="t">cubic Hermitian</text>
<path d="M730.2,442.3h11.6" stroke="#E51E10" stroke-width="0.85"/>
<circle cx="736" cy="442.3" r="3.25" fill="#E51E10"/>
</svg>
</body></html>
